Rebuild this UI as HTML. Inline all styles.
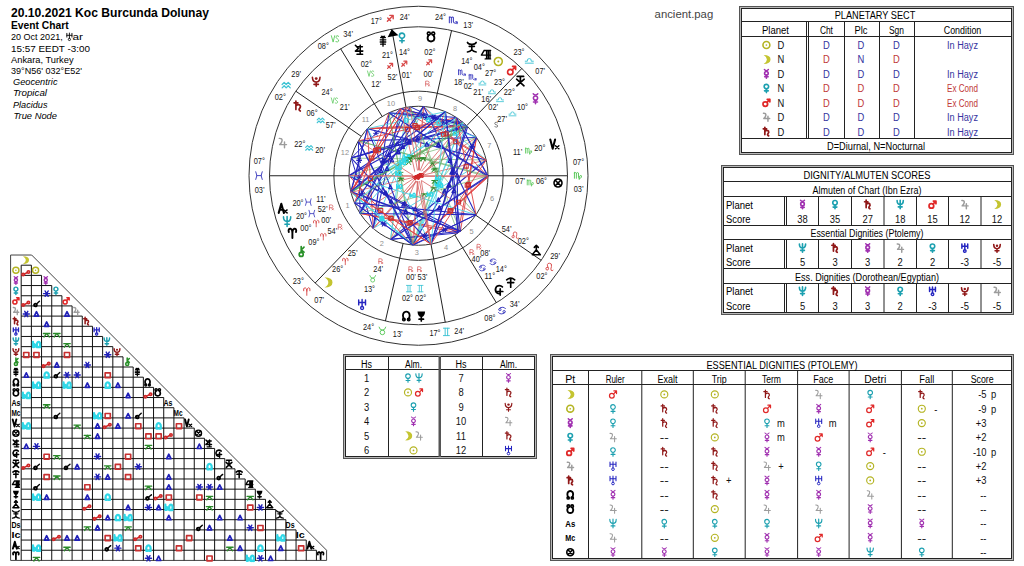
<!DOCTYPE html><html><head><meta charset="utf-8"><style>html,body{margin:0;padding:0;background:#fff;}svg{display:block;font-family:"Liberation Sans",sans-serif;}</style></head><body><svg width="1024" height="566" viewBox="0 0 1024 566"><defs><g id="g_sun"><circle cx="0" cy="0" r="4" fill="none" stroke="currentColor" stroke-width="1.3"/><circle cx="0" cy="0" r="1" fill="currentColor"/></g><g id="b_sun"><circle cx="0" cy="0" r="4" fill="none" stroke="currentColor" stroke-width="1.89"/><circle cx="0" cy="0" r="1" fill="currentColor"/></g><g id="m_sun"><circle cx="0" cy="0" r="4" fill="none" stroke="currentColor" stroke-width="1.56"/><circle cx="0" cy="0" r="1" fill="currentColor"/></g><g id="g_moon"><path d="M-3.2,-5.2 Q5,-5 4.8,0 Q4.6,5 -3.2,5.2 Q0.6,2.8 0.6,0 Q0.6,-2.8 -3.2,-5.2Z" fill="currentColor"/></g><g id="b_moon"><path d="M-3.2,-5.2 Q5,-5 4.8,0 Q4.6,5 -3.2,5.2 Q0.6,2.8 0.6,0 Q0.6,-2.8 -3.2,-5.2Z" fill="currentColor"/></g><g id="m_moon"><path d="M-3.2,-5.2 Q5,-5 4.8,0 Q4.6,5 -3.2,5.2 Q0.6,2.8 0.6,0 Q0.6,-2.8 -3.2,-5.2Z" fill="currentColor"/></g><g id="g_mercury"><path d="M-2.3,-5 Q0,-2.4 2.3,-5" fill="none" stroke="currentColor" stroke-width="1.2" stroke-linecap="round" stroke-linejoin="round"/><circle cx="0" cy="-0.6" r="2.1" fill="none" stroke="currentColor" stroke-width="1.3"/><path d="M0,1.5 L0,5 M-2,3.3 L2,3.3" fill="none" stroke="currentColor" stroke-width="1.3" stroke-linecap="round" stroke-linejoin="round"/></g><g id="b_mercury"><path d="M-2.3,-5 Q0,-2.4 2.3,-5" fill="none" stroke="currentColor" stroke-width="1.74" stroke-linecap="round" stroke-linejoin="round"/><circle cx="0" cy="-0.6" r="2.1" fill="none" stroke="currentColor" stroke-width="1.89"/><path d="M0,1.5 L0,5 M-2,3.3 L2,3.3" fill="none" stroke="currentColor" stroke-width="1.89" stroke-linecap="round" stroke-linejoin="round"/></g><g id="m_mercury"><path d="M-2.3,-5 Q0,-2.4 2.3,-5" fill="none" stroke="currentColor" stroke-width="1.44" stroke-linecap="round" stroke-linejoin="round"/><circle cx="0" cy="-0.6" r="2.1" fill="none" stroke="currentColor" stroke-width="1.56"/><path d="M0,1.5 L0,5 M-2,3.3 L2,3.3" fill="none" stroke="currentColor" stroke-width="1.56" stroke-linecap="round" stroke-linejoin="round"/></g><g id="g_venus"><circle cx="0" cy="-2" r="2.6" fill="none" stroke="currentColor" stroke-width="1.3"/><path d="M0,0.6 L0,5 M-2.2,3 L2.2,3" fill="none" stroke="currentColor" stroke-width="1.3" stroke-linecap="round" stroke-linejoin="round"/></g><g id="b_venus"><circle cx="0" cy="-2" r="2.6" fill="none" stroke="currentColor" stroke-width="1.89"/><path d="M0,0.6 L0,5 M-2.2,3 L2.2,3" fill="none" stroke="currentColor" stroke-width="1.89" stroke-linecap="round" stroke-linejoin="round"/></g><g id="m_venus"><circle cx="0" cy="-2" r="2.6" fill="none" stroke="currentColor" stroke-width="1.56"/><path d="M0,0.6 L0,5 M-2.2,3 L2.2,3" fill="none" stroke="currentColor" stroke-width="1.56" stroke-linecap="round" stroke-linejoin="round"/></g><g id="g_mars"><circle cx="-1.3" cy="1.6" r="2.7" fill="none" stroke="currentColor" stroke-width="1.4"/><path d="M0.6,-0.4 L4,-4 M1,-4 L4,-4 L4,-1" fill="none" stroke="currentColor" stroke-width="1.4" stroke-linecap="round" stroke-linejoin="round"/></g><g id="b_mars"><circle cx="-1.3" cy="1.6" r="2.7" fill="none" stroke="currentColor" stroke-width="2.03"/><path d="M0.6,-0.4 L4,-4 M1,-4 L4,-4 L4,-1" fill="none" stroke="currentColor" stroke-width="2.03" stroke-linecap="round" stroke-linejoin="round"/></g><g id="m_mars"><circle cx="-1.3" cy="1.6" r="2.7" fill="none" stroke="currentColor" stroke-width="1.68"/><path d="M0.6,-0.4 L4,-4 M1,-4 L4,-4 L4,-1" fill="none" stroke="currentColor" stroke-width="1.68" stroke-linecap="round" stroke-linejoin="round"/></g><g id="g_jupiter"><path d="M-3.4,-4.6 Q-0.4,-4.8 -0.6,-2.4 Q-0.8,-0.4 -3,1.6 L3.8,1.6 M1.8,-1 L1.8,4.8" fill="none" stroke="currentColor" stroke-width="1.2" stroke-linecap="round" stroke-linejoin="round"/></g><g id="b_jupiter"><path d="M-3.4,-4.6 Q-0.4,-4.8 -0.6,-2.4 Q-0.8,-0.4 -3,1.6 L3.8,1.6 M1.8,-1 L1.8,4.8" fill="none" stroke="currentColor" stroke-width="1.74" stroke-linecap="round" stroke-linejoin="round"/></g><g id="m_jupiter"><path d="M-3.4,-4.6 Q-0.4,-4.8 -0.6,-2.4 Q-0.8,-0.4 -3,1.6 L3.8,1.6 M1.8,-1 L1.8,4.8" fill="none" stroke="currentColor" stroke-width="1.44" stroke-linecap="round" stroke-linejoin="round"/></g><g id="g_saturn"><path d="M-1.8,-5 L-1.8,3.5 M-3.6,-3.2 L0.2,-3.2 M-1.8,-0.2 Q0.6,-2.4 2.4,-0.6 Q3.4,0.8 1.6,2.8 Q0.8,4 2.6,5" fill="none" stroke="currentColor" stroke-width="1.4" stroke-linecap="round" stroke-linejoin="round"/></g><g id="b_saturn"><path d="M-1.8,-5 L-1.8,3.5 M-3.6,-3.2 L0.2,-3.2 M-1.8,-0.2 Q0.6,-2.4 2.4,-0.6 Q3.4,0.8 1.6,2.8 Q0.8,4 2.6,5" fill="none" stroke="currentColor" stroke-width="2.03" stroke-linecap="round" stroke-linejoin="round"/></g><g id="m_saturn"><path d="M-1.8,-5 L-1.8,3.5 M-3.6,-3.2 L0.2,-3.2 M-1.8,-0.2 Q0.6,-2.4 2.4,-0.6 Q3.4,0.8 1.6,2.8 Q0.8,4 2.6,5" fill="none" stroke="currentColor" stroke-width="1.68" stroke-linecap="round" stroke-linejoin="round"/></g><g id="g_uranus"><path d="M-3.4,-4.6 L-3.4,0.4 M3.4,-4.6 L3.4,0.4 M-3.4,-2 L3.4,-2 M0,-5 L0,2" fill="none" stroke="currentColor" stroke-width="1.2" stroke-linecap="round" stroke-linejoin="round"/><circle cx="0" cy="3.5" r="1.5" fill="none" stroke="currentColor" stroke-width="1.1"/></g><g id="b_uranus"><path d="M-3.4,-4.6 L-3.4,0.4 M3.4,-4.6 L3.4,0.4 M-3.4,-2 L3.4,-2 M0,-5 L0,2" fill="none" stroke="currentColor" stroke-width="1.74" stroke-linecap="round" stroke-linejoin="round"/><circle cx="0" cy="3.5" r="1.5" fill="none" stroke="currentColor" stroke-width="1.59"/></g><g id="m_uranus"><path d="M-3.4,-4.6 L-3.4,0.4 M3.4,-4.6 L3.4,0.4 M-3.4,-2 L3.4,-2 M0,-5 L0,2" fill="none" stroke="currentColor" stroke-width="1.44" stroke-linecap="round" stroke-linejoin="round"/><circle cx="0" cy="3.5" r="1.5" fill="none" stroke="currentColor" stroke-width="1.32"/></g><g id="g_neptune"><path d="M-3.6,-4.6 Q-3.6,0 0,0 Q3.6,0 3.6,-4.6 M0,-5 L0,5 M-2.2,2.8 L2.2,2.8" fill="none" stroke="currentColor" stroke-width="1.3" stroke-linecap="round" stroke-linejoin="round"/></g><g id="b_neptune"><path d="M-3.6,-4.6 Q-3.6,0 0,0 Q3.6,0 3.6,-4.6 M0,-5 L0,5 M-2.2,2.8 L2.2,2.8" fill="none" stroke="currentColor" stroke-width="1.89" stroke-linecap="round" stroke-linejoin="round"/></g><g id="m_neptune"><path d="M-3.6,-4.6 Q-3.6,0 0,0 Q3.6,0 3.6,-4.6 M0,-5 L0,5 M-2.2,2.8 L2.2,2.8" fill="none" stroke="currentColor" stroke-width="1.56" stroke-linecap="round" stroke-linejoin="round"/></g><g id="g_pluto"><path d="M-3.8,-4 Q-3.6,0.8 0,0.8 Q3.6,0.8 3.8,-4 M0,0.8 L0,5 M-2.2,3.2 L2.2,3.2" fill="none" stroke="currentColor" stroke-width="1.3" stroke-linecap="round" stroke-linejoin="round"/><circle cx="0" cy="-2.6" r="1.4" fill="currentColor"/></g><g id="b_pluto"><path d="M-3.8,-4 Q-3.6,0.8 0,0.8 Q3.6,0.8 3.8,-4 M0,0.8 L0,5 M-2.2,3.2 L2.2,3.2" fill="none" stroke="currentColor" stroke-width="1.89" stroke-linecap="round" stroke-linejoin="round"/><circle cx="0" cy="-2.6" r="1.4" fill="currentColor"/></g><g id="m_pluto"><path d="M-3.8,-4 Q-3.6,0.8 0,0.8 Q3.6,0.8 3.8,-4 M0,0.8 L0,5 M-2.2,3.2 L2.2,3.2" fill="none" stroke="currentColor" stroke-width="1.56" stroke-linecap="round" stroke-linejoin="round"/><circle cx="0" cy="-2.6" r="1.4" fill="currentColor"/></g><g id="g_chiron"><circle cx="0" cy="2.8" r="2" fill="none" stroke="currentColor" stroke-width="1.4"/><path d="M0,0.8 L0,-5 M0,-1.6 L2.8,-4.4 M0,-1.6 L2.8,0.6" fill="none" stroke="currentColor" stroke-width="1.4" stroke-linecap="round" stroke-linejoin="round"/></g><g id="b_chiron"><circle cx="0" cy="2.8" r="2" fill="none" stroke="currentColor" stroke-width="2.03"/><path d="M0,0.8 L0,-5 M0,-1.6 L2.8,-4.4 M0,-1.6 L2.8,0.6" fill="none" stroke="currentColor" stroke-width="2.03" stroke-linecap="round" stroke-linejoin="round"/></g><g id="m_chiron"><circle cx="0" cy="2.8" r="2" fill="none" stroke="currentColor" stroke-width="1.68"/><path d="M0,0.8 L0,-5 M0,-1.6 L2.8,-4.4 M0,-1.6 L2.8,0.6" fill="none" stroke="currentColor" stroke-width="1.68" stroke-linecap="round" stroke-linejoin="round"/></g><g id="g_node"><path d="M-2,3.6 Q-4.6,-0.6 -2.2,-3.6 Q0,-5.2 2.2,-3.6 Q4.6,-0.6 2,3.6" fill="none" stroke="currentColor" stroke-width="1.5" stroke-linecap="round" stroke-linejoin="round"/><circle cx="-2.4" cy="3.6" r="1.3" fill="none" stroke="currentColor" stroke-width="1.2"/><circle cx="2.4" cy="3.6" r="1.3" fill="none" stroke="currentColor" stroke-width="1.2"/></g><g id="b_node"><path d="M-2,3.6 Q-4.6,-0.6 -2.2,-3.6 Q0,-5.2 2.2,-3.6 Q4.6,-0.6 2,3.6" fill="none" stroke="currentColor" stroke-width="2.17" stroke-linecap="round" stroke-linejoin="round"/><circle cx="-2.4" cy="3.6" r="1.3" fill="none" stroke="currentColor" stroke-width="1.74"/><circle cx="2.4" cy="3.6" r="1.3" fill="none" stroke="currentColor" stroke-width="1.74"/></g><g id="m_node"><path d="M-2,3.6 Q-4.6,-0.6 -2.2,-3.6 Q0,-5.2 2.2,-3.6 Q4.6,-0.6 2,3.6" fill="none" stroke="currentColor" stroke-width="1.80" stroke-linecap="round" stroke-linejoin="round"/><circle cx="-2.4" cy="3.6" r="1.3" fill="none" stroke="currentColor" stroke-width="1.44"/><circle cx="2.4" cy="3.6" r="1.3" fill="none" stroke="currentColor" stroke-width="1.44"/></g><g id="g_snode"><path d="M-2.4,-2 Q-4.4,1.2 -2.6,3.6 Q0,5.4 2.6,3.6 Q4.4,1.2 2.4,-2" fill="none" stroke="currentColor" stroke-width="1.5" stroke-linecap="round" stroke-linejoin="round"/><circle cx="-2.2" cy="-3.4" r="1.5" fill="none" stroke="currentColor" stroke-width="1.3"/><circle cx="2.2" cy="-3.4" r="1.5" fill="none" stroke="currentColor" stroke-width="1.3"/></g><g id="b_snode"><path d="M-2.4,-2 Q-4.4,1.2 -2.6,3.6 Q0,5.4 2.6,3.6 Q4.4,1.2 2.4,-2" fill="none" stroke="currentColor" stroke-width="2.17" stroke-linecap="round" stroke-linejoin="round"/><circle cx="-2.2" cy="-3.4" r="1.5" fill="none" stroke="currentColor" stroke-width="1.89"/><circle cx="2.2" cy="-3.4" r="1.5" fill="none" stroke="currentColor" stroke-width="1.89"/></g><g id="m_snode"><path d="M-2.4,-2 Q-4.4,1.2 -2.6,3.6 Q0,5.4 2.6,3.6 Q4.4,1.2 2.4,-2" fill="none" stroke="currentColor" stroke-width="1.80" stroke-linecap="round" stroke-linejoin="round"/><circle cx="-2.2" cy="-3.4" r="1.5" fill="none" stroke="currentColor" stroke-width="1.56"/><circle cx="2.2" cy="-3.4" r="1.5" fill="none" stroke="currentColor" stroke-width="1.56"/></g><g id="g_cupido"><path d="M-3.6,-4.4 L-0.6,-1.2 L-3.6,1.4 L3.8,1.4 M1.2,-4.4 L1.2,4.6 M-2,4.6 L3.6,4.6 M-1,-3 L3.4,-3" fill="none" stroke="currentColor" stroke-width="1.3" stroke-linecap="round" stroke-linejoin="round"/></g><g id="b_cupido"><path d="M-3.6,-4.4 L-0.6,-1.2 L-3.6,1.4 L3.8,1.4 M1.2,-4.4 L1.2,4.6 M-2,4.6 L3.6,4.6 M-1,-3 L3.4,-3" fill="none" stroke="currentColor" stroke-width="1.89" stroke-linecap="round" stroke-linejoin="round"/></g><g id="m_cupido"><path d="M-3.6,-4.4 L-0.6,-1.2 L-3.6,1.4 L3.8,1.4 M1.2,-4.4 L1.2,4.6 M-2,4.6 L3.6,4.6 M-1,-3 L3.4,-3" fill="none" stroke="currentColor" stroke-width="1.56" stroke-linecap="round" stroke-linejoin="round"/></g><g id="g_hades"><path d="M3.2,-3.2 Q0.6,-5.6 -2.6,-3.6 Q-4.8,-0.8 -3,2.2 Q-1.6,3.8 0.4,3.4 M1,-1.2 L1,5 M-1.6,1.4 L3.6,1.4" fill="none" stroke="currentColor" stroke-width="1.4" stroke-linecap="round" stroke-linejoin="round"/></g><g id="b_hades"><path d="M3.2,-3.2 Q0.6,-5.6 -2.6,-3.6 Q-4.8,-0.8 -3,2.2 Q-1.6,3.8 0.4,3.4 M1,-1.2 L1,5 M-1.6,1.4 L3.6,1.4" fill="none" stroke="currentColor" stroke-width="2.03" stroke-linecap="round" stroke-linejoin="round"/></g><g id="m_hades"><path d="M3.2,-3.2 Q0.6,-5.6 -2.6,-3.6 Q-4.8,-0.8 -3,2.2 Q-1.6,3.8 0.4,3.4 M1,-1.2 L1,5 M-1.6,1.4 L3.6,1.4" fill="none" stroke="currentColor" stroke-width="1.68" stroke-linecap="round" stroke-linejoin="round"/></g><g id="g_zeus"><path d="M-3.2,-4.6 L3.2,-4.6 M0,-4.6 L0,0.2 M-3.8,-1.8 L3.6,4.8 M3.8,-1.8 L-3.6,4.8" fill="none" stroke="currentColor" stroke-width="1.4" stroke-linecap="round" stroke-linejoin="round"/></g><g id="b_zeus"><path d="M-3.2,-4.6 L3.2,-4.6 M0,-4.6 L0,0.2 M-3.8,-1.8 L3.6,4.8 M3.8,-1.8 L-3.6,4.8" fill="none" stroke="currentColor" stroke-width="2.03" stroke-linecap="round" stroke-linejoin="round"/></g><g id="m_zeus"><path d="M-3.2,-4.6 L3.2,-4.6 M0,-4.6 L0,0.2 M-3.8,-1.8 L3.6,4.8 M3.8,-1.8 L-3.6,4.8" fill="none" stroke="currentColor" stroke-width="1.68" stroke-linecap="round" stroke-linejoin="round"/></g><g id="g_kronos"><path d="M-4,-2.4 Q0,-5.6 4,-2.4 M0,-4 L0,5 M-3,0.4 L3,0.4" fill="none" stroke="currentColor" stroke-width="1.4" stroke-linecap="round" stroke-linejoin="round"/></g><g id="b_kronos"><path d="M-4,-2.4 Q0,-5.6 4,-2.4 M0,-4 L0,5 M-3,0.4 L3,0.4" fill="none" stroke="currentColor" stroke-width="2.03" stroke-linecap="round" stroke-linejoin="round"/></g><g id="m_kronos"><path d="M-4,-2.4 Q0,-5.6 4,-2.4 M0,-4 L0,5 M-3,0.4 L3,0.4" fill="none" stroke="currentColor" stroke-width="1.68" stroke-linecap="round" stroke-linejoin="round"/></g><g id="g_apollon"><path d="M-4.6,0.6 L-1.8,-4.2 M-4.6,0.6 L4.6,0.6 M-0.8,-4 L4.6,-4 M-0.8,4.4 L4.6,4.4 M0.6,-4 L0.6,4.4 M2.3,-4 L2.3,4.4 M4,-4 L4,4.4" fill="none" stroke="currentColor" stroke-width="1.2" stroke-linecap="round" stroke-linejoin="round"/></g><g id="b_apollon"><path d="M-4.6,0.6 L-1.8,-4.2 M-4.6,0.6 L4.6,0.6 M-0.8,-4 L4.6,-4 M-0.8,4.4 L4.6,4.4 M0.6,-4 L0.6,4.4 M2.3,-4 L2.3,4.4 M4,-4 L4,4.4" fill="none" stroke="currentColor" stroke-width="1.74" stroke-linecap="round" stroke-linejoin="round"/></g><g id="m_apollon"><path d="M-4.6,0.6 L-1.8,-4.2 M-4.6,0.6 L4.6,0.6 M-0.8,-4 L4.6,-4 M-0.8,4.4 L4.6,4.4 M0.6,-4 L0.6,4.4 M2.3,-4 L2.3,4.4 M4,-4 L4,4.4" fill="none" stroke="currentColor" stroke-width="1.44" stroke-linecap="round" stroke-linejoin="round"/></g><g id="g_admetos"><path d="M-3.8,-4.6 L3.8,-4.6 Q3.4,0.8 0,1 Q-3.4,0.8 -3.8,-4.6Z" fill="currentColor"/><path d="M0,0.8 L0,5 M-2.2,3.2 L2.2,3.2" fill="none" stroke="currentColor" stroke-width="1.4" stroke-linecap="round" stroke-linejoin="round"/></g><g id="b_admetos"><path d="M-3.8,-4.6 L3.8,-4.6 Q3.4,0.8 0,1 Q-3.4,0.8 -3.8,-4.6Z" fill="currentColor"/><path d="M0,0.8 L0,5 M-2.2,3.2 L2.2,3.2" fill="none" stroke="currentColor" stroke-width="2.03" stroke-linecap="round" stroke-linejoin="round"/></g><g id="m_admetos"><path d="M-3.8,-4.6 L3.8,-4.6 Q3.4,0.8 0,1 Q-3.4,0.8 -3.8,-4.6Z" fill="currentColor"/><path d="M0,0.8 L0,5 M-2.2,3.2 L2.2,3.2" fill="none" stroke="currentColor" stroke-width="1.68" stroke-linecap="round" stroke-linejoin="round"/></g><g id="g_vulkanus"><path d="M-4,4.4 L0,-0.6 L4,4.4Z M0,-0.6 L0,-5 M-2,-3 L0,-5 L2,-3" fill="none" stroke="currentColor" stroke-width="1.3" stroke-linecap="round" stroke-linejoin="round"/></g><g id="b_vulkanus"><path d="M-4,4.4 L0,-0.6 L4,4.4Z M0,-0.6 L0,-5 M-2,-3 L0,-5 L2,-3" fill="none" stroke="currentColor" stroke-width="1.89" stroke-linecap="round" stroke-linejoin="round"/></g><g id="m_vulkanus"><path d="M-4,4.4 L0,-0.6 L4,4.4Z M0,-0.6 L0,-5 M-2,-3 L0,-5 L2,-3" fill="none" stroke="currentColor" stroke-width="1.56" stroke-linecap="round" stroke-linejoin="round"/></g><g id="g_poseidon"><path d="M-4.4,-5 Q-3.6,-3 0,-3.2 Q3.6,-3 4.4,-5 M0,-3.2 L0,2.4 M-4.4,4.6 Q-1.6,4.4 0,2.4 Q1.6,4.4 4.4,4.6 M-2.6,-1 L2.6,-1" fill="none" stroke="currentColor" stroke-width="1.3" stroke-linecap="round" stroke-linejoin="round"/></g><g id="b_poseidon"><path d="M-4.4,-5 Q-3.6,-3 0,-3.2 Q3.6,-3 4.4,-5 M0,-3.2 L0,2.4 M-4.4,4.6 Q-1.6,4.4 0,2.4 Q1.6,4.4 4.4,4.6 M-2.6,-1 L2.6,-1" fill="none" stroke="currentColor" stroke-width="1.89" stroke-linecap="round" stroke-linejoin="round"/></g><g id="m_poseidon"><path d="M-4.4,-5 Q-3.6,-3 0,-3.2 Q3.6,-3 4.4,-5 M0,-3.2 L0,2.4 M-4.4,4.6 Q-1.6,4.4 0,2.4 Q1.6,4.4 4.4,4.6 M-2.6,-1 L2.6,-1" fill="none" stroke="currentColor" stroke-width="1.56" stroke-linecap="round" stroke-linejoin="round"/></g><g id="g_trans"><path d="M0,-5 L0,5 M-2.4,-3.6 L2.4,-3.6 M-2.8,-1.4 L2.8,-1.4 M-2.8,0.8 L2.8,0.8 M-2.4,3 L2.4,3 M-1.6,-5 L0,-4 L1.6,-5" fill="none" stroke="currentColor" stroke-width="1.1" stroke-linecap="round" stroke-linejoin="round"/></g><g id="b_trans"><path d="M0,-5 L0,5 M-2.4,-3.6 L2.4,-3.6 M-2.8,-1.4 L2.8,-1.4 M-2.8,0.8 L2.8,0.8 M-2.4,3 L2.4,3 M-1.6,-5 L0,-4 L1.6,-5" fill="none" stroke="currentColor" stroke-width="1.59" stroke-linecap="round" stroke-linejoin="round"/></g><g id="m_trans"><path d="M0,-5 L0,5 M-2.4,-3.6 L2.4,-3.6 M-2.8,-1.4 L2.8,-1.4 M-2.8,0.8 L2.8,0.8 M-2.4,3 L2.4,3 M-1.6,-5 L0,-4 L1.6,-5" fill="none" stroke="currentColor" stroke-width="1.32" stroke-linecap="round" stroke-linejoin="round"/></g><g id="g_pof"><circle cx="0" cy="0" r="4" fill="none" stroke="currentColor" stroke-width="1.3"/><path d="M-2.8,-2.8 L2.8,2.8 M2.8,-2.8 L-2.8,2.8" fill="none" stroke="currentColor" stroke-width="1.3" stroke-linecap="round" stroke-linejoin="round"/></g><g id="b_pof"><circle cx="0" cy="0" r="4" fill="none" stroke="currentColor" stroke-width="1.89"/><path d="M-2.8,-2.8 L2.8,2.8 M2.8,-2.8 L-2.8,2.8" fill="none" stroke="currentColor" stroke-width="1.89" stroke-linecap="round" stroke-linejoin="round"/></g><g id="m_pof"><circle cx="0" cy="0" r="4" fill="none" stroke="currentColor" stroke-width="1.56"/><path d="M-2.8,-2.8 L2.8,2.8 M2.8,-2.8 L-2.8,2.8" fill="none" stroke="currentColor" stroke-width="1.56" stroke-linecap="round" stroke-linejoin="round"/></g><g id="g_axt"><path d="M-4,4.6 L-1.4,-4.6 L1.2,4.6 M-2.8,1.4 L0.2,1.4" fill="none" stroke="currentColor" stroke-width="1.7" stroke-linecap="round" stroke-linejoin="round"/><path d="M1,1.6 L4.4,4.6 M4.4,1.6 L1,4.6" fill="none" stroke="currentColor" stroke-width="1.2" stroke-linecap="round" stroke-linejoin="round"/></g><g id="b_axt"><path d="M-4,4.6 L-1.4,-4.6 L1.2,4.6 M-2.8,1.4 L0.2,1.4" fill="none" stroke="currentColor" stroke-width="2.46" stroke-linecap="round" stroke-linejoin="round"/><path d="M1,1.6 L4.4,4.6 M4.4,1.6 L1,4.6" fill="none" stroke="currentColor" stroke-width="1.74" stroke-linecap="round" stroke-linejoin="round"/></g><g id="m_axt"><path d="M-4,4.6 L-1.4,-4.6 L1.2,4.6 M-2.8,1.4 L0.2,1.4" fill="none" stroke="currentColor" stroke-width="2.04" stroke-linecap="round" stroke-linejoin="round"/><path d="M1,1.6 L4.4,4.6 M4.4,1.6 L1,4.6" fill="none" stroke="currentColor" stroke-width="1.44" stroke-linecap="round" stroke-linejoin="round"/></g><g id="g_vx"><path d="M-4.2,-4.6 L-1.8,4.6 L0.6,-4.6" fill="none" stroke="currentColor" stroke-width="1.7" stroke-linecap="round" stroke-linejoin="round"/><path d="M1,1.6 L4.4,4.6 M4.4,1.6 L1,4.6" fill="none" stroke="currentColor" stroke-width="1.2" stroke-linecap="round" stroke-linejoin="round"/></g><g id="b_vx"><path d="M-4.2,-4.6 L-1.8,4.6 L0.6,-4.6" fill="none" stroke="currentColor" stroke-width="2.46" stroke-linecap="round" stroke-linejoin="round"/><path d="M1,1.6 L4.4,4.6 M4.4,1.6 L1,4.6" fill="none" stroke="currentColor" stroke-width="1.74" stroke-linecap="round" stroke-linejoin="round"/></g><g id="m_vx"><path d="M-4.2,-4.6 L-1.8,4.6 L0.6,-4.6" fill="none" stroke="currentColor" stroke-width="2.04" stroke-linecap="round" stroke-linejoin="round"/><path d="M1,1.6 L4.4,4.6 M4.4,1.6 L1,4.6" fill="none" stroke="currentColor" stroke-width="1.44" stroke-linecap="round" stroke-linejoin="round"/></g><g id="g_aries_pt"><path d="M-3.6,-1 Q-4.6,-4.6 -1.6,-4.2 Q0,-3.6 0,0 L0,5 M0,0 Q0,-3.6 1.6,-4.2 Q4.6,-4.6 3.6,-1" fill="none" stroke="currentColor" stroke-width="1.6" stroke-linecap="round" stroke-linejoin="round"/></g><g id="b_aries_pt"><path d="M-3.6,-1 Q-4.6,-4.6 -1.6,-4.2 Q0,-3.6 0,0 L0,5 M0,0 Q0,-3.6 1.6,-4.2 Q4.6,-4.6 3.6,-1" fill="none" stroke="currentColor" stroke-width="2.32" stroke-linecap="round" stroke-linejoin="round"/></g><g id="m_aries_pt"><path d="M-3.6,-1 Q-4.6,-4.6 -1.6,-4.2 Q0,-3.6 0,0 L0,5 M0,0 Q0,-3.6 1.6,-4.2 Q4.6,-4.6 3.6,-1" fill="none" stroke="currentColor" stroke-width="1.92" stroke-linecap="round" stroke-linejoin="round"/></g><g id="g_ari"><path d="M-3.6,-0.6 Q-4.4,-4.2 -1.8,-4 Q0,-3.6 0,0 L0,4.6 M0,0 Q0,-3.6 1.8,-4 Q4.4,-4.2 3.6,-0.6" fill="none" stroke="currentColor" stroke-width="1.1" stroke-linecap="round" stroke-linejoin="round"/></g><g id="b_ari"><path d="M-3.6,-0.6 Q-4.4,-4.2 -1.8,-4 Q0,-3.6 0,0 L0,4.6 M0,0 Q0,-3.6 1.8,-4 Q4.4,-4.2 3.6,-0.6" fill="none" stroke="currentColor" stroke-width="1.59" stroke-linecap="round" stroke-linejoin="round"/></g><g id="m_ari"><path d="M-3.6,-0.6 Q-4.4,-4.2 -1.8,-4 Q0,-3.6 0,0 L0,4.6 M0,0 Q0,-3.6 1.8,-4 Q4.4,-4.2 3.6,-0.6" fill="none" stroke="currentColor" stroke-width="1.32" stroke-linecap="round" stroke-linejoin="round"/></g><g id="g_tau"><circle cx="0" cy="1.6" r="2.6" fill="none" stroke="currentColor" stroke-width="1.1"/><path d="M-3.8,-4.4 Q-3,-1 0,-1 Q3,-1 3.8,-4.4" fill="none" stroke="currentColor" stroke-width="1.1" stroke-linecap="round" stroke-linejoin="round"/></g><g id="b_tau"><circle cx="0" cy="1.6" r="2.6" fill="none" stroke="currentColor" stroke-width="1.59"/><path d="M-3.8,-4.4 Q-3,-1 0,-1 Q3,-1 3.8,-4.4" fill="none" stroke="currentColor" stroke-width="1.59" stroke-linecap="round" stroke-linejoin="round"/></g><g id="m_tau"><circle cx="0" cy="1.6" r="2.6" fill="none" stroke="currentColor" stroke-width="1.32"/><path d="M-3.8,-4.4 Q-3,-1 0,-1 Q3,-1 3.8,-4.4" fill="none" stroke="currentColor" stroke-width="1.32" stroke-linecap="round" stroke-linejoin="round"/></g><g id="g_gem"><path d="M-3.4,-4.2 L3.4,-4.2 M-3.4,4.2 L3.4,4.2 M-1.4,-4.2 L-1.4,4.2 M1.4,-4.2 L1.4,4.2" fill="none" stroke="currentColor" stroke-width="1.1" stroke-linecap="round" stroke-linejoin="round"/></g><g id="b_gem"><path d="M-3.4,-4.2 L3.4,-4.2 M-3.4,4.2 L3.4,4.2 M-1.4,-4.2 L-1.4,4.2 M1.4,-4.2 L1.4,4.2" fill="none" stroke="currentColor" stroke-width="1.59" stroke-linecap="round" stroke-linejoin="round"/></g><g id="m_gem"><path d="M-3.4,-4.2 L3.4,-4.2 M-3.4,4.2 L3.4,4.2 M-1.4,-4.2 L-1.4,4.2 M1.4,-4.2 L1.4,4.2" fill="none" stroke="currentColor" stroke-width="1.32" stroke-linecap="round" stroke-linejoin="round"/></g><g id="g_can"><circle cx="-2.4" cy="-1.2" r="1.3" fill="none" stroke="currentColor" stroke-width="1.1"/><circle cx="2.4" cy="1.2" r="1.3" fill="none" stroke="currentColor" stroke-width="1.1"/><path d="M-3.6,-1.6 Q-3,-4 1,-3.8 Q3.4,-3.4 4,-2.2 M3.6,1.6 Q3,4 -1,3.8 Q-3.4,3.4 -4,2.2" fill="none" stroke="currentColor" stroke-width="1.1" stroke-linecap="round" stroke-linejoin="round"/></g><g id="b_can"><circle cx="-2.4" cy="-1.2" r="1.3" fill="none" stroke="currentColor" stroke-width="1.59"/><circle cx="2.4" cy="1.2" r="1.3" fill="none" stroke="currentColor" stroke-width="1.59"/><path d="M-3.6,-1.6 Q-3,-4 1,-3.8 Q3.4,-3.4 4,-2.2 M3.6,1.6 Q3,4 -1,3.8 Q-3.4,3.4 -4,2.2" fill="none" stroke="currentColor" stroke-width="1.59" stroke-linecap="round" stroke-linejoin="round"/></g><g id="m_can"><circle cx="-2.4" cy="-1.2" r="1.3" fill="none" stroke="currentColor" stroke-width="1.32"/><circle cx="2.4" cy="1.2" r="1.3" fill="none" stroke="currentColor" stroke-width="1.32"/><path d="M-3.6,-1.6 Q-3,-4 1,-3.8 Q3.4,-3.4 4,-2.2 M3.6,1.6 Q3,4 -1,3.8 Q-3.4,3.4 -4,2.2" fill="none" stroke="currentColor" stroke-width="1.32" stroke-linecap="round" stroke-linejoin="round"/></g><g id="g_leo"><circle cx="-2.6" cy="1.8" r="1.5" fill="none" stroke="currentColor" stroke-width="1.1"/><path d="M-1.6,0.6 Q-4,-4.4 0,-4.4 Q3.2,-4.4 2.2,-0.6 Q1,2.6 2,3.8 Q3,4.6 4,3.6" fill="none" stroke="currentColor" stroke-width="1.1" stroke-linecap="round" stroke-linejoin="round"/></g><g id="b_leo"><circle cx="-2.6" cy="1.8" r="1.5" fill="none" stroke="currentColor" stroke-width="1.59"/><path d="M-1.6,0.6 Q-4,-4.4 0,-4.4 Q3.2,-4.4 2.2,-0.6 Q1,2.6 2,3.8 Q3,4.6 4,3.6" fill="none" stroke="currentColor" stroke-width="1.59" stroke-linecap="round" stroke-linejoin="round"/></g><g id="m_leo"><circle cx="-2.6" cy="1.8" r="1.5" fill="none" stroke="currentColor" stroke-width="1.32"/><path d="M-1.6,0.6 Q-4,-4.4 0,-4.4 Q3.2,-4.4 2.2,-0.6 Q1,2.6 2,3.8 Q3,4.6 4,3.6" fill="none" stroke="currentColor" stroke-width="1.32" stroke-linecap="round" stroke-linejoin="round"/></g><g id="g_vir"><path d="M-4.4,-3.2 L-4.4,3.6 M-4.4,-2 Q-3.4,-3.8 -2.2,-2.4 L-2.2,3.6 M-2.2,-2 Q-1,-3.8 0.2,-2.4 L0.2,2.6 Q0.4,4.6 2.4,3.6 Q4.4,2.2 3.4,0.6 Q2,-0.2 1.2,2 Q0.8,3.4 1,5" fill="none" stroke="currentColor" stroke-width="1.1" stroke-linecap="round" stroke-linejoin="round"/></g><g id="b_vir"><path d="M-4.4,-3.2 L-4.4,3.6 M-4.4,-2 Q-3.4,-3.8 -2.2,-2.4 L-2.2,3.6 M-2.2,-2 Q-1,-3.8 0.2,-2.4 L0.2,2.6 Q0.4,4.6 2.4,3.6 Q4.4,2.2 3.4,0.6 Q2,-0.2 1.2,2 Q0.8,3.4 1,5" fill="none" stroke="currentColor" stroke-width="1.59" stroke-linecap="round" stroke-linejoin="round"/></g><g id="m_vir"><path d="M-4.4,-3.2 L-4.4,3.6 M-4.4,-2 Q-3.4,-3.8 -2.2,-2.4 L-2.2,3.6 M-2.2,-2 Q-1,-3.8 0.2,-2.4 L0.2,2.6 Q0.4,4.6 2.4,3.6 Q4.4,2.2 3.4,0.6 Q2,-0.2 1.2,2 Q0.8,3.4 1,5" fill="none" stroke="currentColor" stroke-width="1.32" stroke-linecap="round" stroke-linejoin="round"/></g><g id="g_lib"><path d="M-4.6,2.8 L4.6,2.8 M-4.6,0.6 L-2.2,0.6 Q-2.8,-2.4 0,-2.4 Q2.8,-2.4 2.2,0.6 L4.6,0.6" fill="none" stroke="currentColor" stroke-width="1.1" stroke-linecap="round" stroke-linejoin="round"/></g><g id="b_lib"><path d="M-4.6,2.8 L4.6,2.8 M-4.6,0.6 L-2.2,0.6 Q-2.8,-2.4 0,-2.4 Q2.8,-2.4 2.2,0.6 L4.6,0.6" fill="none" stroke="currentColor" stroke-width="1.59" stroke-linecap="round" stroke-linejoin="round"/></g><g id="m_lib"><path d="M-4.6,2.8 L4.6,2.8 M-4.6,0.6 L-2.2,0.6 Q-2.8,-2.4 0,-2.4 Q2.8,-2.4 2.2,0.6 L4.6,0.6" fill="none" stroke="currentColor" stroke-width="1.32" stroke-linecap="round" stroke-linejoin="round"/></g><g id="g_sco"><path d="M-4.6,-3 L-4.6,3.6 M-4.6,-1.8 Q-3.6,-3.8 -2.3,-2.2 L-2.3,3.6 M-2.3,-1.8 Q-1.2,-3.8 0,-2.2 L0,2.6 Q0.4,4.2 2.6,4.2 L4.6,3 M2.8,2.4 L4.6,3 L4.2,4.8" fill="none" stroke="currentColor" stroke-width="1.2" stroke-linecap="round" stroke-linejoin="round"/></g><g id="b_sco"><path d="M-4.6,-3 L-4.6,3.6 M-4.6,-1.8 Q-3.6,-3.8 -2.3,-2.2 L-2.3,3.6 M-2.3,-1.8 Q-1.2,-3.8 0,-2.2 L0,2.6 Q0.4,4.2 2.6,4.2 L4.6,3 M2.8,2.4 L4.6,3 L4.2,4.8" fill="none" stroke="currentColor" stroke-width="1.74" stroke-linecap="round" stroke-linejoin="round"/></g><g id="m_sco"><path d="M-4.6,-3 L-4.6,3.6 M-4.6,-1.8 Q-3.6,-3.8 -2.3,-2.2 L-2.3,3.6 M-2.3,-1.8 Q-1.2,-3.8 0,-2.2 L0,2.6 Q0.4,4.2 2.6,4.2 L4.6,3 M2.8,2.4 L4.6,3 L4.2,4.8" fill="none" stroke="currentColor" stroke-width="1.44" stroke-linecap="round" stroke-linejoin="round"/></g><g id="g_sag"><path d="M-3.2,3.2 L3.2,-3.2 M-0.4,-3.4 L3.4,-3.4 L3.4,0.4 M-2.8,-0.4 L0.4,2.8" fill="none" stroke="currentColor" stroke-width="1.6" stroke-linecap="round" stroke-linejoin="round"/></g><g id="b_sag"><path d="M-3.2,3.2 L3.2,-3.2 M-0.4,-3.4 L3.4,-3.4 L3.4,0.4 M-2.8,-0.4 L0.4,2.8" fill="none" stroke="currentColor" stroke-width="2.32" stroke-linecap="round" stroke-linejoin="round"/></g><g id="m_sag"><path d="M-3.2,3.2 L3.2,-3.2 M-0.4,-3.4 L3.4,-3.4 L3.4,0.4 M-2.8,-0.4 L0.4,2.8" fill="none" stroke="currentColor" stroke-width="1.92" stroke-linecap="round" stroke-linejoin="round"/></g><g id="g_cap"><path d="M-4.6,-3.6 L-2.6,3.6 L-0.8,-3.6 M3.8,-2.8 Q3,-3.8 1.8,-3.6 Q0.4,-3.2 0.8,-1.6 Q1.2,-0.4 2.6,0.2 Q4.2,1 3.6,2.6 Q2.8,4 0.6,3.2" fill="none" stroke="currentColor" stroke-width="1.0" stroke-linecap="round" stroke-linejoin="round"/></g><g id="b_cap"><path d="M-4.6,-3.6 L-2.6,3.6 L-0.8,-3.6 M3.8,-2.8 Q3,-3.8 1.8,-3.6 Q0.4,-3.2 0.8,-1.6 Q1.2,-0.4 2.6,0.2 Q4.2,1 3.6,2.6 Q2.8,4 0.6,3.2" fill="none" stroke="currentColor" stroke-width="1.45" stroke-linecap="round" stroke-linejoin="round"/></g><g id="m_cap"><path d="M-4.6,-3.6 L-2.6,3.6 L-0.8,-3.6 M3.8,-2.8 Q3,-3.8 1.8,-3.6 Q0.4,-3.2 0.8,-1.6 Q1.2,-0.4 2.6,0.2 Q4.2,1 3.6,2.6 Q2.8,4 0.6,3.2" fill="none" stroke="currentColor" stroke-width="1.20" stroke-linecap="round" stroke-linejoin="round"/></g><g id="g_aqu"><path d="M-4.6,-0.2 L-2.3,-2.6 L0,-0.2 L2.3,-2.6 L4.6,-0.2 M-4.6,3.6 L-2.3,1.2 L0,3.6 L2.3,1.2 L4.6,3.6" fill="none" stroke="currentColor" stroke-width="1.5" stroke-linecap="round" stroke-linejoin="round"/></g><g id="b_aqu"><path d="M-4.6,-0.2 L-2.3,-2.6 L0,-0.2 L2.3,-2.6 L4.6,-0.2 M-4.6,3.6 L-2.3,1.2 L0,3.6 L2.3,1.2 L4.6,3.6" fill="none" stroke="currentColor" stroke-width="2.17" stroke-linecap="round" stroke-linejoin="round"/></g><g id="m_aqu"><path d="M-4.6,-0.2 L-2.3,-2.6 L0,-0.2 L2.3,-2.6 L4.6,-0.2 M-4.6,3.6 L-2.3,1.2 L0,3.6 L2.3,1.2 L4.6,3.6" fill="none" stroke="currentColor" stroke-width="1.80" stroke-linecap="round" stroke-linejoin="round"/></g><g id="g_pis"><path d="M-3.6,-4.4 Q-1,0 -3.6,4.4 M3.6,-4.4 Q1,0 3.6,4.4 M-2.6,0 L2.6,0" fill="none" stroke="currentColor" stroke-width="1.1" stroke-linecap="round" stroke-linejoin="round"/></g><g id="b_pis"><path d="M-3.6,-4.4 Q-1,0 -3.6,4.4 M3.6,-4.4 Q1,0 3.6,4.4 M-2.6,0 L2.6,0" fill="none" stroke="currentColor" stroke-width="1.59" stroke-linecap="round" stroke-linejoin="round"/></g><g id="m_pis"><path d="M-3.6,-4.4 Q-1,0 -3.6,4.4 M3.6,-4.4 Q1,0 3.6,4.4 M-2.6,0 L2.6,0" fill="none" stroke="currentColor" stroke-width="1.32" stroke-linecap="round" stroke-linejoin="round"/></g><g id="g_opp"><path d="M-2.2,1.2 L2.2,-1.2" fill="none" stroke="currentColor" stroke-width="1.4" stroke-linecap="round" stroke-linejoin="round"/><circle cx="-3.4" cy="1.6" r="1.6" fill="none" stroke="currentColor" stroke-width="1.4"/><circle cx="3.4" cy="-1.6" r="1.6" fill="none" stroke="currentColor" stroke-width="1.4"/></g><g id="b_opp"><path d="M-2.2,1.2 L2.2,-1.2" fill="none" stroke="currentColor" stroke-width="2.03" stroke-linecap="round" stroke-linejoin="round"/><circle cx="-3.4" cy="1.6" r="1.6" fill="none" stroke="currentColor" stroke-width="2.03"/><circle cx="3.4" cy="-1.6" r="1.6" fill="none" stroke="currentColor" stroke-width="2.03"/></g><g id="m_opp"><path d="M-2.2,1.2 L2.2,-1.2" fill="none" stroke="currentColor" stroke-width="1.68" stroke-linecap="round" stroke-linejoin="round"/><circle cx="-3.4" cy="1.6" r="1.6" fill="none" stroke="currentColor" stroke-width="1.68"/><circle cx="3.4" cy="-1.6" r="1.6" fill="none" stroke="currentColor" stroke-width="1.68"/></g><g id="g_con"><circle cx="-1.4" cy="1.6" r="1.9" fill="none" stroke="currentColor" stroke-width="1.7"/><path d="M0.4,-0.2 L4,-3.4" fill="none" stroke="currentColor" stroke-width="1.3" stroke-linecap="round" stroke-linejoin="round"/></g><g id="b_con"><circle cx="-1.4" cy="1.6" r="1.9" fill="none" stroke="currentColor" stroke-width="2.46"/><path d="M0.4,-0.2 L4,-3.4" fill="none" stroke="currentColor" stroke-width="1.89" stroke-linecap="round" stroke-linejoin="round"/></g><g id="m_con"><circle cx="-1.4" cy="1.6" r="1.9" fill="none" stroke="currentColor" stroke-width="2.04"/><path d="M0.4,-0.2 L4,-3.4" fill="none" stroke="currentColor" stroke-width="1.56" stroke-linecap="round" stroke-linejoin="round"/></g><g id="g_tri"><path d="M-3,3 L0,-3.2 L3,3Z" fill="none" stroke="currentColor" stroke-width="1.6" stroke-linecap="round" stroke-linejoin="round"/></g><g id="b_tri"><path d="M-3,3 L0,-3.2 L3,3Z" fill="none" stroke="currentColor" stroke-width="2.32" stroke-linecap="round" stroke-linejoin="round"/></g><g id="m_tri"><path d="M-3,3 L0,-3.2 L3,3Z" fill="none" stroke="currentColor" stroke-width="1.92" stroke-linecap="round" stroke-linejoin="round"/></g><g id="g_sqr"><path d="M-3.4,-3 L3.4,-3 L3.4,3.4 L-3.4,3.4Z" fill="none" stroke="currentColor" stroke-width="1.5" stroke-linecap="round" stroke-linejoin="round"/></g><g id="b_sqr"><path d="M-3.4,-3 L3.4,-3 L3.4,3.4 L-3.4,3.4Z" fill="none" stroke="currentColor" stroke-width="2.17" stroke-linecap="round" stroke-linejoin="round"/></g><g id="m_sqr"><path d="M-3.4,-3 L3.4,-3 L3.4,3.4 L-3.4,3.4Z" fill="none" stroke="currentColor" stroke-width="1.80" stroke-linecap="round" stroke-linejoin="round"/></g><g id="g_sex"><path d="M-4,0 L4,0 M-2,-3.5 L2,3.5 M2,-3.5 L-2,3.5" fill="none" stroke="currentColor" stroke-width="1.3" stroke-linecap="round" stroke-linejoin="round"/></g><g id="b_sex"><path d="M-4,0 L4,0 M-2,-3.5 L2,3.5 M2,-3.5 L-2,3.5" fill="none" stroke="currentColor" stroke-width="1.89" stroke-linecap="round" stroke-linejoin="round"/></g><g id="m_sex"><path d="M-4,0 L4,0 M-2,-3.5 L2,3.5 M2,-3.5 L-2,3.5" fill="none" stroke="currentColor" stroke-width="1.56" stroke-linecap="round" stroke-linejoin="round"/></g><g id="g_qcx"><path d="M-4.4,-1.2 L4.4,-1.2 M0,-1.2 L-3.6,3.6 M0,-1.2 L3.6,3.6" fill="none" stroke="currentColor" stroke-width="1.2" stroke-linecap="round" stroke-linejoin="round"/></g><g id="b_qcx"><path d="M-4.4,-1.2 L4.4,-1.2 M0,-1.2 L-3.6,3.6 M0,-1.2 L3.6,3.6" fill="none" stroke="currentColor" stroke-width="1.74" stroke-linecap="round" stroke-linejoin="round"/></g><g id="m_qcx"><path d="M-4.4,-1.2 L4.4,-1.2 M0,-1.2 L-3.6,3.6 M0,-1.2 L3.6,3.6" fill="none" stroke="currentColor" stroke-width="1.44" stroke-linecap="round" stroke-linejoin="round"/></g><g id="g_qui"><path d="M-1.6,3.2 Q-3.4,1 -2.4,-1.4 Q-1.4,-3.4 0,-3.4 Q1.4,-3.4 2.4,-1.4 Q3.4,1 1.6,3.2 M-2.8,3.2 L-0.6,3.2 M0.6,3.2 L2.8,3.2" fill="none" stroke="currentColor" stroke-width="1.9" stroke-linecap="round" stroke-linejoin="round"/></g><g id="b_qui"><path d="M-1.6,3.2 Q-3.4,1 -2.4,-1.4 Q-1.4,-3.4 0,-3.4 Q1.4,-3.4 2.4,-1.4 Q3.4,1 1.6,3.2 M-2.8,3.2 L-0.6,3.2 M0.6,3.2 L2.8,3.2" fill="none" stroke="currentColor" stroke-width="2.75" stroke-linecap="round" stroke-linejoin="round"/></g><g id="m_qui"><path d="M-1.6,3.2 Q-3.4,1 -2.4,-1.4 Q-1.4,-3.4 0,-3.4 Q1.4,-3.4 2.4,-1.4 Q3.4,1 1.6,3.2 M-2.8,3.2 L-0.6,3.2 M0.6,3.2 L2.8,3.2" fill="none" stroke="currentColor" stroke-width="2.28" stroke-linecap="round" stroke-linejoin="round"/></g><g id="g_bqu"><path d="M-4.2,-3.4 L-4.2,3 Q-1.6,3.4 -1.8,0.8 Q-1.8,-1.2 -4.2,0 M1.4,3.2 Q-0.2,1 0.6,-1.4 Q1.4,-3.4 2.6,-3.4 Q3.8,-3.4 4.4,-1.4 Q5,1 3.6,3.2 M0.4,3.2 L4.6,3.2" fill="none" stroke="currentColor" stroke-width="1.9" stroke-linecap="round" stroke-linejoin="round"/></g><g id="b_bqu"><path d="M-4.2,-3.4 L-4.2,3 Q-1.6,3.4 -1.8,0.8 Q-1.8,-1.2 -4.2,0 M1.4,3.2 Q-0.2,1 0.6,-1.4 Q1.4,-3.4 2.6,-3.4 Q3.8,-3.4 4.4,-1.4 Q5,1 3.6,3.2 M0.4,3.2 L4.6,3.2" fill="none" stroke="currentColor" stroke-width="2.75" stroke-linecap="round" stroke-linejoin="round"/></g><g id="m_bqu"><path d="M-4.2,-3.4 L-4.2,3 Q-1.6,3.4 -1.8,0.8 Q-1.8,-1.2 -4.2,0 M1.4,3.2 Q-0.2,1 0.6,-1.4 Q1.4,-3.4 2.6,-3.4 Q3.8,-3.4 4.4,-1.4 Q5,1 3.6,3.2 M0.4,3.2 L4.6,3.2" fill="none" stroke="currentColor" stroke-width="2.28" stroke-linecap="round" stroke-linejoin="round"/></g><g id="g_rx"><path d="M-3,4 L-3,-4 L0,-4 Q2.6,-4 2.6,-1.6 Q2.6,0.6 0,0.6 L-3,0.6 M0,0.6 L3.4,4 M1.2,4 L3.4,1.8" fill="none" stroke="currentColor" stroke-width="1.0" stroke-linecap="round" stroke-linejoin="round"/></g><g id="b_rx"><path d="M-3,4 L-3,-4 L0,-4 Q2.6,-4 2.6,-1.6 Q2.6,0.6 0,0.6 L-3,0.6 M0,0.6 L3.4,4 M1.2,4 L3.4,1.8" fill="none" stroke="currentColor" stroke-width="1.45" stroke-linecap="round" stroke-linejoin="round"/></g><g id="m_rx"><path d="M-3,4 L-3,-4 L0,-4 Q2.6,-4 2.6,-1.6 Q2.6,0.6 0,0.6 L-3,0.6 M0,0.6 L3.4,4 M1.2,4 L3.4,1.8" fill="none" stroke="currentColor" stroke-width="1.20" stroke-linecap="round" stroke-linejoin="round"/></g><g id="g_stat"><path d="M2.6,-3.2 Q1.6,-4.4 0,-4.4 Q-2.6,-4.4 -2.6,-2.2 Q-2.6,-0.4 0,0 Q2.6,0.4 2.6,2.4 Q2.6,4.4 0,4.4 Q-1.8,4.4 -2.6,3.2" fill="none" stroke="currentColor" stroke-width="1.0" stroke-linecap="round" stroke-linejoin="round"/></g><g id="b_stat"><path d="M2.6,-3.2 Q1.6,-4.4 0,-4.4 Q-2.6,-4.4 -2.6,-2.2 Q-2.6,-0.4 0,0 Q2.6,0.4 2.6,2.4 Q2.6,4.4 0,4.4 Q-1.8,4.4 -2.6,3.2" fill="none" stroke="currentColor" stroke-width="1.45" stroke-linecap="round" stroke-linejoin="round"/></g><g id="m_stat"><path d="M2.6,-3.2 Q1.6,-4.4 0,-4.4 Q-2.6,-4.4 -2.6,-2.2 Q-2.6,-0.4 0,0 Q2.6,0.4 2.6,2.4 Q2.6,4.4 0,4.4 Q-1.8,4.4 -2.6,3.2" fill="none" stroke="currentColor" stroke-width="1.20" stroke-linecap="round" stroke-linejoin="round"/></g></defs><rect width="1024" height="566" fill="#fff"/><text x="11.00" y="17.00" font-size="12" text-anchor="start" font-weight="bold" font-style="normal" fill="#000" textLength="198" lengthAdjust="spacingAndGlyphs" >20.10.2021 Koc Burcunda Dolunay</text>
<text x="11.00" y="29.00" font-size="10" text-anchor="start" font-weight="bold" font-style="normal" fill="#000" textLength="57.6" lengthAdjust="spacingAndGlyphs" >Event Chart</text>
<text x="11.00" y="40.40" font-size="9.5" text-anchor="start" font-weight="normal" font-style="normal" fill="#000" textLength="51.7" lengthAdjust="spacingAndGlyphs" >20 Oct 2021,</text>
<use href="#g_uranus" transform="translate(69.40,36.80) scale(0.750)" style="color:#000"/>
<text x="72.50" y="40.40" font-size="9.5" text-anchor="start" font-weight="normal" font-style="normal" fill="#000" textLength="10.5" lengthAdjust="spacingAndGlyphs" >ar</text>
<text x="11.00" y="51.60" font-size="9.5" text-anchor="start" font-weight="normal" font-style="normal" fill="#000" textLength="79" lengthAdjust="spacingAndGlyphs" >15:57  EEDT -3:00</text>
<text x="11.00" y="63.00" font-size="9.5" text-anchor="start" font-weight="normal" font-style="normal" fill="#000" textLength="62.6" lengthAdjust="spacingAndGlyphs" >Ankara, Turkey</text>
<text x="11.00" y="74.20" font-size="9.5" text-anchor="start" font-weight="normal" font-style="normal" fill="#000" textLength="71" lengthAdjust="spacingAndGlyphs" >39°N56' 032°E52'</text>
<text x="13.00" y="85.30" font-size="9.5" text-anchor="start" font-weight="normal" font-style="italic" fill="#000" textLength="44.5" lengthAdjust="spacingAndGlyphs" >Geocentric</text>
<text x="13.00" y="95.80" font-size="9.5" text-anchor="start" font-weight="normal" font-style="italic" fill="#000" textLength="34" lengthAdjust="spacingAndGlyphs" >Tropical</text>
<text x="13.00" y="107.60" font-size="9.5" text-anchor="start" font-weight="normal" font-style="italic" fill="#000" textLength="34.5" lengthAdjust="spacingAndGlyphs" >Placidus</text>
<text x="13.50" y="119.40" font-size="9.5" text-anchor="start" font-weight="normal" font-style="italic" fill="#000" textLength="43.5" lengthAdjust="spacingAndGlyphs" >True Node</text>
<text x="654.60" y="18.10" font-size="11.3" text-anchor="start" font-weight="normal" font-style="normal" fill="#444" textLength="58.6" lengthAdjust="spacingAndGlyphs" >ancient.pag</text>
<circle cx="418.5" cy="175.75" r="169.5" fill="none" stroke="#333" stroke-width="1"/>
<circle cx="418.5" cy="175.75" r="149.0" fill="none" stroke="#333" stroke-width="1"/>
<circle cx="418.5" cy="175.75" r="84.6" fill="none" stroke="#333" stroke-width="1"/>
<circle cx="418.5" cy="175.75" r="69.5" fill="none" stroke="#333" stroke-width="1"/>
<line x1="269.50" y1="175.75" x2="349.00" y2="175.75" stroke="#222" stroke-width="1" />
<line x1="315.13" y1="283.06" x2="370.28" y2="225.80" stroke="#222" stroke-width="1" />
<line x1="385.41" y1="321.03" x2="403.07" y2="243.51" stroke="#222" stroke-width="1" />
<line x1="445.27" y1="322.33" x2="430.99" y2="244.12" stroke="#222" stroke-width="1" />
<line x1="496.40" y1="302.77" x2="454.83" y2="235.00" stroke="#222" stroke-width="1" />
<line x1="541.19" y1="260.29" x2="475.73" y2="215.19" stroke="#222" stroke-width="1" />
<line x1="567.50" y1="175.75" x2="488.00" y2="175.75" stroke="#222" stroke-width="1" />
<line x1="521.87" y1="68.44" x2="466.72" y2="125.70" stroke="#222" stroke-width="1" />
<line x1="451.59" y1="30.47" x2="433.93" y2="107.99" stroke="#222" stroke-width="1" />
<line x1="391.73" y1="29.17" x2="406.01" y2="107.38" stroke="#222" stroke-width="1" />
<line x1="340.60" y1="48.73" x2="382.17" y2="116.50" stroke="#222" stroke-width="1" />
<line x1="295.81" y1="91.21" x2="361.27" y2="136.31" stroke="#222" stroke-width="1" />
<path d="M391.73,29.17 L387.64,37.14 L398.37,35.18Z" fill="#000"/>
<text x="347.64" y="208.48" font-size="7.4" text-anchor="middle" font-weight="normal" font-style="normal" fill="#909090" >1</text>
<text x="381.90" y="246.10" font-size="7.4" text-anchor="middle" font-weight="normal" font-style="normal" fill="#909090" >2</text>
<text x="416.83" y="255.33" font-size="7.4" text-anchor="middle" font-weight="normal" font-style="normal" fill="#909090" >3</text>
<text x="446.01" y="250.27" font-size="7.4" text-anchor="middle" font-weight="normal" font-style="normal" fill="#909090" >4</text>
<text x="471.48" y="234.23" font-size="7.4" text-anchor="middle" font-weight="normal" font-style="normal" fill="#909090" >5</text>
<text x="492.02" y="201.23" font-size="7.4" text-anchor="middle" font-weight="normal" font-style="normal" fill="#909090" >6</text>
<text x="489.36" y="148.22" font-size="7.4" text-anchor="middle" font-weight="normal" font-style="normal" fill="#909090" >7</text>
<text x="455.10" y="110.60" font-size="7.4" text-anchor="middle" font-weight="normal" font-style="normal" fill="#909090" >8</text>
<text x="420.17" y="101.37" font-size="7.4" text-anchor="middle" font-weight="normal" font-style="normal" fill="#909090" >9</text>
<text x="390.99" y="106.43" font-size="7.4" text-anchor="middle" font-weight="normal" font-style="normal" fill="#909090" >10</text>
<text x="365.52" y="122.47" font-size="7.4" text-anchor="middle" font-weight="normal" font-style="normal" fill="#909090" >11</text>
<text x="344.98" y="155.47" font-size="7.4" text-anchor="middle" font-weight="normal" font-style="normal" fill="#909090" >12</text>
<text x="376.30" y="24.10" font-size="8.3" text-anchor="middle" font-weight="normal" font-style="normal" fill="#151515" textLength="11.19" lengthAdjust="spacingAndGlyphs" >17°</text>
<use href="#g_sag" transform="translate(390.20,18.40) scale(0.880)" style="color:#d84848"/>
<text x="404.60" y="20.10" font-size="8.3" text-anchor="middle" font-weight="normal" font-style="normal" fill="#151515" textLength="9.87" lengthAdjust="spacingAndGlyphs" >24’</text>
<text x="440.50" y="19.70" font-size="8.3" text-anchor="middle" font-weight="normal" font-style="normal" fill="#151515" textLength="11.19" lengthAdjust="spacingAndGlyphs" >24°</text>
<use href="#g_sco" transform="translate(453.40,19.50) scale(0.880)" style="color:#4040c0"/>
<text x="468.30" y="27.60" font-size="8.3" text-anchor="middle" font-weight="normal" font-style="normal" fill="#151515" textLength="9.87" lengthAdjust="spacingAndGlyphs" >13’</text>
<text x="519.00" y="54.70" font-size="8.3" text-anchor="middle" font-weight="normal" font-style="normal" fill="#151515" textLength="11.19" lengthAdjust="spacingAndGlyphs" >23°</text>
<use href="#g_lib" transform="translate(529.30,60.70) scale(0.880)" style="color:#40c4d4"/>
<text x="540.30" y="74.20" font-size="8.3" text-anchor="middle" font-weight="normal" font-style="normal" fill="#151515" textLength="9.87" lengthAdjust="spacingAndGlyphs" >07’</text>
<text x="578.60" y="164.70" font-size="8.3" text-anchor="middle" font-weight="normal" font-style="normal" fill="#151515" textLength="11.19" lengthAdjust="spacingAndGlyphs" >07°</text>
<use href="#g_vir" transform="translate(578.30,175.10) scale(0.880)" style="color:#58c858"/>
<text x="578.60" y="192.10" font-size="8.3" text-anchor="middle" font-weight="normal" font-style="normal" fill="#151515" textLength="9.87" lengthAdjust="spacingAndGlyphs" >03’</text>
<text x="555.10" y="258.60" font-size="8.3" text-anchor="middle" font-weight="normal" font-style="normal" fill="#151515" textLength="9.87" lengthAdjust="spacingAndGlyphs" >29’</text>
<use href="#g_leo" transform="translate(549.50,267.10) scale(0.880)" style="color:#d84848"/>
<text x="541.90" y="278.90" font-size="8.3" text-anchor="middle" font-weight="normal" font-style="normal" fill="#151515" textLength="11.19" lengthAdjust="spacingAndGlyphs" >02°</text>
<text x="514.60" y="306.50" font-size="8.3" text-anchor="middle" font-weight="normal" font-style="normal" fill="#151515" textLength="9.87" lengthAdjust="spacingAndGlyphs" >34’</text>
<use href="#g_can" transform="translate(502.00,310.60) scale(0.880)" style="color:#4040c0"/>
<text x="489.90" y="320.60" font-size="8.3" text-anchor="middle" font-weight="normal" font-style="normal" fill="#151515" textLength="11.19" lengthAdjust="spacingAndGlyphs" >08°</text>
<text x="435.00" y="336.30" font-size="8.3" text-anchor="middle" font-weight="normal" font-style="normal" fill="#151515" textLength="11.19" lengthAdjust="spacingAndGlyphs" >17°</text>
<use href="#g_gem" transform="translate(446.40,331.90) scale(0.880)" style="color:#40c4d4"/>
<text x="459.30" y="333.90" font-size="8.3" text-anchor="middle" font-weight="normal" font-style="normal" fill="#151515" textLength="9.87" lengthAdjust="spacingAndGlyphs" >24’</text>
<text x="368.60" y="329.50" font-size="8.3" text-anchor="middle" font-weight="normal" font-style="normal" fill="#151515" textLength="11.19" lengthAdjust="spacingAndGlyphs" >24°</text>
<use href="#g_tau" transform="translate(382.40,331.00) scale(0.880)" style="color:#58c858"/>
<text x="397.80" y="336.50" font-size="8.3" text-anchor="middle" font-weight="normal" font-style="normal" fill="#151515" textLength="9.87" lengthAdjust="spacingAndGlyphs" >13’</text>
<text x="298.30" y="283.70" font-size="8.3" text-anchor="middle" font-weight="normal" font-style="normal" fill="#151515" textLength="11.19" lengthAdjust="spacingAndGlyphs" >23°</text>
<use href="#g_ari" transform="translate(306.80,291.30) scale(0.880)" style="color:#d84848"/>
<text x="319.30" y="303.00" font-size="8.3" text-anchor="middle" font-weight="normal" font-style="normal" fill="#151515" textLength="9.87" lengthAdjust="spacingAndGlyphs" >07’</text>
<text x="259.30" y="164.40" font-size="8.3" text-anchor="middle" font-weight="normal" font-style="normal" fill="#151515" textLength="11.19" lengthAdjust="spacingAndGlyphs" >07°</text>
<use href="#g_pis" transform="translate(259.00,175.60) scale(0.880)" style="color:#4040c0"/>
<text x="259.70" y="192.70" font-size="8.3" text-anchor="middle" font-weight="normal" font-style="normal" fill="#151515" textLength="9.87" lengthAdjust="spacingAndGlyphs" >03’</text>
<text x="296.30" y="77.00" font-size="8.3" text-anchor="middle" font-weight="normal" font-style="normal" fill="#151515" textLength="9.87" lengthAdjust="spacingAndGlyphs" >29’</text>
<use href="#g_aqu" transform="translate(286.20,84.70) scale(0.880)" style="color:#40c4d4"/>
<text x="280.30" y="100.00" font-size="8.3" text-anchor="middle" font-weight="normal" font-style="normal" fill="#151515" textLength="11.19" lengthAdjust="spacingAndGlyphs" >02°</text>
<text x="348.10" y="36.50" font-size="8.3" text-anchor="middle" font-weight="normal" font-style="normal" fill="#151515" textLength="9.87" lengthAdjust="spacingAndGlyphs" >34’</text>
<use href="#g_cap" transform="translate(335.40,38.90) scale(0.880)" style="color:#58c858"/>
<text x="323.30" y="48.90" font-size="8.3" text-anchor="middle" font-weight="normal" font-style="normal" fill="#151515" textLength="11.19" lengthAdjust="spacingAndGlyphs" >08°</text>
<use href="#m_venus" transform="translate(402.00,37.70) scale(1.000)" style="color:#1ca0b0"/>
<text x="404.50" y="55.40" font-size="8.3" text-anchor="middle" font-weight="normal" font-style="normal" fill="#151515" textLength="11.19" lengthAdjust="spacingAndGlyphs" >14°</text>
<use href="#g_sag" transform="translate(404.20,63.80) scale(0.760)" style="color:#d84848"/>
<text x="406.60" y="78.00" font-size="8.3" text-anchor="middle" font-weight="normal" font-style="normal" fill="#151515" textLength="9.87" lengthAdjust="spacingAndGlyphs" >01’</text>
<use href="#m_snode" transform="translate(431.00,37.00) scale(1.000)" style="color:#000"/>
<text x="429.90" y="55.40" font-size="8.3" text-anchor="middle" font-weight="normal" font-style="normal" fill="#151515" textLength="11.19" lengthAdjust="spacingAndGlyphs" >02°</text>
<use href="#g_sag" transform="translate(429.00,62.40) scale(0.760)" style="color:#d84848"/>
<text x="428.50" y="76.60" font-size="8.3" text-anchor="middle" font-weight="normal" font-style="normal" fill="#151515" textLength="9.87" lengthAdjust="spacingAndGlyphs" >00’</text>
<use href="#g_rx" transform="translate(427.50,83.60) scale(0.620)" style="color:#d04040"/>
<use href="#m_trans" transform="translate(383.00,41.20) scale(1.000)" style="color:#000"/>
<text x="387.50" y="58.20" font-size="8.3" text-anchor="middle" font-weight="normal" font-style="normal" fill="#151515" textLength="11.19" lengthAdjust="spacingAndGlyphs" >21°</text>
<use href="#g_sag" transform="translate(390.00,66.00) scale(0.760)" style="color:#d84848"/>
<text x="392.50" y="80.10" font-size="8.3" text-anchor="middle" font-weight="normal" font-style="normal" fill="#151515" textLength="9.87" lengthAdjust="spacingAndGlyphs" >52’</text>
<use href="#m_cupido" transform="translate(359.00,49.70) scale(1.000)" style="color:#000"/>
<text x="366.30" y="66.70" font-size="8.3" text-anchor="middle" font-weight="normal" font-style="normal" fill="#151515" textLength="11.19" lengthAdjust="spacingAndGlyphs" >02°</text>
<use href="#g_cap" transform="translate(371.00,73.70) scale(0.760)" style="color:#58c858"/>
<text x="376.30" y="86.50" font-size="8.3" text-anchor="middle" font-weight="normal" font-style="normal" fill="#151515" textLength="9.87" lengthAdjust="spacingAndGlyphs" >12’</text>
<use href="#m_pluto" transform="translate(316.20,81.20) scale(1.000)" style="color:#901818"/>
<text x="327.10" y="94.70" font-size="8.3" text-anchor="middle" font-weight="normal" font-style="normal" fill="#151515" textLength="11.19" lengthAdjust="spacingAndGlyphs" >24°</text>
<use href="#g_cap" transform="translate(334.80,100.60) scale(0.760)" style="color:#58c858"/>
<text x="344.80" y="109.70" font-size="8.3" text-anchor="middle" font-weight="normal" font-style="normal" fill="#151515" textLength="9.87" lengthAdjust="spacingAndGlyphs" >21’</text>
<use href="#m_saturn" transform="translate(297.70,106.00) scale(1.000)" style="color:#901818"/>
<text x="312.10" y="115.90" font-size="8.3" text-anchor="middle" font-weight="normal" font-style="normal" fill="#151515" textLength="11.19" lengthAdjust="spacingAndGlyphs" >06°</text>
<use href="#g_aqu" transform="translate(320.70,120.00) scale(0.760)" style="color:#40c4d4"/>
<text x="330.70" y="128.30" font-size="8.3" text-anchor="middle" font-weight="normal" font-style="normal" fill="#151515" textLength="9.87" lengthAdjust="spacingAndGlyphs" >57’</text>
<use href="#m_jupiter" transform="translate(282.70,143.00) scale(1.000)" style="color:#9c9c9c"/>
<text x="299.80" y="146.80" font-size="8.3" text-anchor="middle" font-weight="normal" font-style="normal" fill="#151515" textLength="11.19" lengthAdjust="spacingAndGlyphs" >22°</text>
<use href="#g_aqu" transform="translate(309.20,147.50) scale(0.760)" style="color:#40c4d4"/>
<text x="320.10" y="153.00" font-size="8.3" text-anchor="middle" font-weight="normal" font-style="normal" fill="#151515" textLength="9.87" lengthAdjust="spacingAndGlyphs" >20’</text>
<use href="#m_axt" transform="translate(282.70,208.30) scale(1.000)" style="color:#000"/>
<text x="298.00" y="205.90" font-size="8.3" text-anchor="middle" font-weight="normal" font-style="normal" fill="#151515" textLength="11.19" lengthAdjust="spacingAndGlyphs" >20°</text>
<use href="#g_pis" transform="translate(308.30,202.10) scale(0.760)" style="color:#4040c0"/>
<text x="321.00" y="202.30" font-size="8.3" text-anchor="middle" font-weight="normal" font-style="normal" fill="#151515" textLength="9.33" lengthAdjust="spacingAndGlyphs" >11’</text>
<use href="#m_neptune" transform="translate(287.10,221.50) scale(1.000)" style="color:#1ca0b0"/>
<text x="301.50" y="219.10" font-size="8.3" text-anchor="middle" font-weight="normal" font-style="normal" fill="#151515" textLength="11.19" lengthAdjust="spacingAndGlyphs" >20°</text>
<use href="#g_pis" transform="translate(311.80,213.60) scale(0.760)" style="color:#4040c0"/>
<text x="322.70" y="212.10" font-size="8.3" text-anchor="middle" font-weight="normal" font-style="normal" fill="#151515" textLength="9.87" lengthAdjust="spacingAndGlyphs" >52’</text>
<use href="#g_rx" transform="translate(331.30,207.40) scale(0.620)" style="color:#d04040"/>
<use href="#m_aries_pt" transform="translate(292.40,233.00) scale(1.000)" style="color:#000"/>
<text x="305.90" y="230.60" font-size="8.3" text-anchor="middle" font-weight="normal" font-style="normal" fill="#151515" textLength="11.19" lengthAdjust="spacingAndGlyphs" >00°</text>
<use href="#g_ari" transform="translate(316.20,223.30) scale(0.760)" style="color:#d84848"/>
<text x="326.30" y="222.70" font-size="8.3" text-anchor="middle" font-weight="normal" font-style="normal" fill="#151515" textLength="9.87" lengthAdjust="spacingAndGlyphs" >00’</text>
<use href="#m_chiron" transform="translate(301.20,251.60) scale(1.000)" style="color:#289028"/>
<text x="313.90" y="244.70" font-size="8.3" text-anchor="middle" font-weight="normal" font-style="normal" fill="#151515" textLength="11.19" lengthAdjust="spacingAndGlyphs" >09°</text>
<use href="#g_ari" transform="translate(323.30,236.50) scale(0.760)" style="color:#d84848"/>
<text x="332.40" y="234.10" font-size="8.3" text-anchor="middle" font-weight="normal" font-style="normal" fill="#151515" textLength="9.87" lengthAdjust="spacingAndGlyphs" >54’</text>
<use href="#g_rx" transform="translate(340.10,226.80) scale(0.620)" style="color:#d04040"/>
<use href="#m_moon" transform="translate(327.70,282.40) scale(1.000)" style="color:#c4c430"/>
<text x="337.70" y="272.10" font-size="8.3" text-anchor="middle" font-weight="normal" font-style="normal" fill="#151515" textLength="11.19" lengthAdjust="spacingAndGlyphs" >26°</text>
<use href="#g_ari" transform="translate(345.30,261.20) scale(0.760)" style="color:#d84848"/>
<text x="352.70" y="256.20" font-size="8.3" text-anchor="middle" font-weight="normal" font-style="normal" fill="#151515" textLength="9.87" lengthAdjust="spacingAndGlyphs" >25’</text>
<use href="#m_uranus" transform="translate(362.10,304.50) scale(1.000)" style="color:#2424c0"/>
<text x="369.50" y="291.50" font-size="8.3" text-anchor="middle" font-weight="normal" font-style="normal" fill="#151515" textLength="11.19" lengthAdjust="spacingAndGlyphs" >13°</text>
<use href="#g_tau" transform="translate(372.70,278.90) scale(0.760)" style="color:#58c858"/>
<text x="378.30" y="272.10" font-size="8.3" text-anchor="middle" font-weight="normal" font-style="normal" fill="#151515" textLength="9.87" lengthAdjust="spacingAndGlyphs" >24’</text>
<use href="#g_rx" transform="translate(380.70,261.20) scale(0.620)" style="color:#d04040"/>
<use href="#m_node" transform="translate(406.30,316.00) scale(1.000)" style="color:#000"/>
<text x="407.50" y="301.20" font-size="8.3" text-anchor="middle" font-weight="normal" font-style="normal" fill="#151515" textLength="11.19" lengthAdjust="spacingAndGlyphs" >02°</text>
<use href="#g_gem" transform="translate(409.00,288.60) scale(0.760)" style="color:#40c4d4"/>
<text x="411.00" y="280.00" font-size="8.3" text-anchor="middle" font-weight="normal" font-style="normal" fill="#151515" textLength="9.87" lengthAdjust="spacingAndGlyphs" >00’</text>
<use href="#g_rx" transform="translate(410.70,269.20) scale(0.620)" style="color:#d04040"/>
<use href="#m_admetos" transform="translate(421.30,316.00) scale(1.000)" style="color:#000"/>
<text x="420.70" y="301.20" font-size="8.3" text-anchor="middle" font-weight="normal" font-style="normal" fill="#151515" textLength="11.19" lengthAdjust="spacingAndGlyphs" >02°</text>
<use href="#g_gem" transform="translate(420.40,288.60) scale(0.760)" style="color:#40c4d4"/>
<text x="422.50" y="280.00" font-size="8.3" text-anchor="middle" font-weight="normal" font-style="normal" fill="#151515" textLength="9.87" lengthAdjust="spacingAndGlyphs" >53’</text>
<use href="#g_rx" transform="translate(419.50,269.20) scale(0.620)" style="color:#d04040"/>
<use href="#m_hades" transform="translate(499.20,290.10) scale(1.000)" style="color:#000"/>
<text x="489.80" y="278.90" font-size="8.3" text-anchor="middle" font-weight="normal" font-style="normal" fill="#151515" textLength="10.64" lengthAdjust="spacingAndGlyphs" >11°</text>
<use href="#g_can" transform="translate(482.40,268.00) scale(0.760)" style="color:#4040c0"/>
<text x="476.50" y="262.10" font-size="8.3" text-anchor="middle" font-weight="normal" font-style="normal" fill="#151515" textLength="9.87" lengthAdjust="spacingAndGlyphs" >40’</text>
<use href="#g_rx" transform="translate(471.80,252.10) scale(0.620)" style="color:#d04040"/>
<use href="#m_kronos" transform="translate(510.70,282.20) scale(1.000)" style="color:#000"/>
<text x="501.30" y="271.80" font-size="8.3" text-anchor="middle" font-weight="normal" font-style="normal" fill="#151515" textLength="11.19" lengthAdjust="spacingAndGlyphs" >14°</text>
<use href="#g_can" transform="translate(493.00,261.80) scale(0.760)" style="color:#4040c0"/>
<text x="485.30" y="255.90" font-size="8.3" text-anchor="middle" font-weight="normal" font-style="normal" fill="#151515" textLength="9.87" lengthAdjust="spacingAndGlyphs" >08’</text>
<use href="#g_rx" transform="translate(478.90,246.80) scale(0.620)" style="color:#d04040"/>
<use href="#m_vulkanus" transform="translate(536.30,250.40) scale(1.000)" style="color:#000"/>
<text x="523.30" y="243.50" font-size="8.3" text-anchor="middle" font-weight="normal" font-style="normal" fill="#151515" textLength="11.19" lengthAdjust="spacingAndGlyphs" >02°</text>
<use href="#g_leo" transform="translate(515.10,235.30) scale(0.760)" style="color:#d84848"/>
<text x="506.60" y="232.10" font-size="8.3" text-anchor="middle" font-weight="normal" font-style="normal" fill="#151515" textLength="9.87" lengthAdjust="spacingAndGlyphs" >54’</text>
<use href="#m_pof" transform="translate(558.00,183.00) scale(1.000)" style="color:#000"/>
<text x="541.50" y="184.20" font-size="8.3" text-anchor="middle" font-weight="normal" font-style="normal" fill="#151515" textLength="11.19" lengthAdjust="spacingAndGlyphs" >06°</text>
<use href="#g_vir" transform="translate(530.60,182.20) scale(0.760)" style="color:#58c858"/>
<text x="520.30" y="184.20" font-size="8.3" text-anchor="middle" font-weight="normal" font-style="normal" fill="#151515" textLength="9.87" lengthAdjust="spacingAndGlyphs" >07’</text>
<use href="#m_vx" transform="translate(554.50,144.20) scale(1.000)" style="color:#000"/>
<text x="539.80" y="150.60" font-size="8.3" text-anchor="middle" font-weight="normal" font-style="normal" fill="#151515" textLength="11.19" lengthAdjust="spacingAndGlyphs" >20°</text>
<use href="#g_vir" transform="translate(528.90,150.40) scale(0.760)" style="color:#58c858"/>
<text x="517.70" y="155.00" font-size="8.3" text-anchor="middle" font-weight="normal" font-style="normal" fill="#151515" textLength="9.33" lengthAdjust="spacingAndGlyphs" >11’</text>
<use href="#m_mercury" transform="translate(535.50,98.70) scale(1.000)" style="color:#a030b0"/>
<text x="522.50" y="109.50" font-size="8.3" text-anchor="middle" font-weight="normal" font-style="normal" fill="#151515" textLength="11.19" lengthAdjust="spacingAndGlyphs" >10°</text>
<use href="#g_lib" transform="translate(512.50,113.70) scale(0.760)" style="color:#40c4d4"/>
<text x="502.20" y="121.90" font-size="8.3" text-anchor="middle" font-weight="normal" font-style="normal" fill="#151515" textLength="9.87" lengthAdjust="spacingAndGlyphs" >27’</text>
<use href="#g_stat" transform="translate(496.20,124.70) scale(0.560)" style="color:#222"/>
<use href="#m_zeus" transform="translate(520.40,81.00) scale(1.000)" style="color:#000"/>
<text x="509.30" y="94.50" font-size="8.3" text-anchor="middle" font-weight="normal" font-style="normal" fill="#151515" textLength="11.19" lengthAdjust="spacingAndGlyphs" >22°</text>
<use href="#g_lib" transform="translate(500.00,99.50) scale(0.760)" style="color:#40c4d4"/>
<text x="493.30" y="109.50" font-size="8.3" text-anchor="middle" font-weight="normal" font-style="normal" fill="#151515" textLength="9.87" lengthAdjust="spacingAndGlyphs" >02’</text>
<use href="#m_mars" transform="translate(511.60,70.40) scale(1.000)" style="color:#e02828"/>
<text x="499.50" y="84.80" font-size="8.3" text-anchor="middle" font-weight="normal" font-style="normal" fill="#151515" textLength="11.19" lengthAdjust="spacingAndGlyphs" >23°</text>
<use href="#g_lib" transform="translate(492.00,91.60) scale(0.760)" style="color:#40c4d4"/>
<text x="486.30" y="101.60" font-size="8.3" text-anchor="middle" font-weight="normal" font-style="normal" fill="#151515" textLength="9.87" lengthAdjust="spacingAndGlyphs" >16’</text>
<use href="#m_sun" transform="translate(498.30,61.50) scale(1.000)" style="color:#b4b422"/>
<text x="490.70" y="75.90" font-size="8.3" text-anchor="middle" font-weight="normal" font-style="normal" fill="#151515" textLength="11.19" lengthAdjust="spacingAndGlyphs" >27°</text>
<use href="#g_lib" transform="translate(482.40,82.80) scale(0.760)" style="color:#40c4d4"/>
<text x="478.30" y="95.40" font-size="8.3" text-anchor="middle" font-weight="normal" font-style="normal" fill="#151515" textLength="9.87" lengthAdjust="spacingAndGlyphs" >21’</text>
<use href="#m_apollon" transform="translate(486.00,54.50) scale(1.000)" style="color:#000"/>
<text x="479.30" y="69.70" font-size="8.3" text-anchor="middle" font-weight="normal" font-style="normal" fill="#151515" textLength="11.19" lengthAdjust="spacingAndGlyphs" >04°</text>
<use href="#g_sco" transform="translate(472.70,76.60) scale(0.760)" style="color:#4040c0"/>
<text x="468.60" y="89.20" font-size="8.3" text-anchor="middle" font-weight="normal" font-style="normal" fill="#151515" textLength="9.87" lengthAdjust="spacingAndGlyphs" >02’</text>
<use href="#m_poseidon" transform="translate(471.80,47.40) scale(1.000)" style="color:#000"/>
<text x="466.80" y="63.60" font-size="8.3" text-anchor="middle" font-weight="normal" font-style="normal" fill="#151515" textLength="11.19" lengthAdjust="spacingAndGlyphs" >14°</text>
<use href="#g_sco" transform="translate(462.00,72.00) scale(0.760)" style="color:#4040c0"/>
<text x="458.90" y="84.80" font-size="8.3" text-anchor="middle" font-weight="normal" font-style="normal" fill="#151515" textLength="9.87" lengthAdjust="spacingAndGlyphs" >18’</text>
<line x1="462.89" y1="122.28" x2="373.24" y2="228.50" stroke="#d86868" stroke-width="0.85"/>
<line x1="410.07" y1="106.76" x2="476.52" y2="137.49" stroke="#2828c0" stroke-width="1.0"/>
<line x1="466.59" y1="125.57" x2="373.24" y2="228.50" stroke="#d86868" stroke-width="0.85"/>
<line x1="351.28" y1="158.09" x2="373.24" y2="228.50" stroke="#2828c0" stroke-width="1.0"/>
<line x1="351.28" y1="158.09" x2="462.89" y2="122.28" stroke="#2828c0" stroke-width="1.1"/>
<line x1="351.28" y1="158.09" x2="466.59" y2="125.57" stroke="#2828c0" stroke-width="1.1"/>
<line x1="358.37" y1="140.90" x2="476.52" y2="137.49" stroke="#2828c0" stroke-width="1.1"/>
<line x1="390.62" y1="239.41" x2="476.52" y2="137.49" stroke="#58a858" stroke-width="0.6"/>
<line x1="390.62" y1="239.41" x2="410.07" y2="106.76" stroke="#58a858" stroke-width="0.6"/>
<line x1="351.01" y1="192.35" x2="462.89" y2="122.28" stroke="#50d4e4" stroke-width="0.9"/>
<line x1="351.01" y1="192.35" x2="466.59" y2="125.57" stroke="#58a858" stroke-width="0.6"/>
<line x1="367.42" y1="128.62" x2="373.24" y2="228.50" stroke="#e04040" stroke-width="0.9"/>
<line x1="367.42" y1="128.62" x2="462.89" y2="122.28" stroke="#e04040" stroke-width="0.9"/>
<line x1="367.42" y1="128.62" x2="466.59" y2="125.57" stroke="#e04040" stroke-width="0.9"/>
<line x1="367.42" y1="128.62" x2="351.01" y2="192.35" stroke="#2828c0" stroke-width="1.0"/>
<line x1="360.11" y1="213.45" x2="476.52" y2="137.49" stroke="#d86868" stroke-width="0.85"/>
<line x1="360.11" y1="213.45" x2="410.07" y2="106.76" stroke="#2828c0" stroke-width="1.1"/>
<line x1="360.11" y1="213.45" x2="358.37" y2="140.90" stroke="#2828c0" stroke-width="1.0"/>
<line x1="400.72" y1="108.56" x2="373.24" y2="228.50" stroke="#2828c0" stroke-width="1.1"/>
<line x1="400.72" y1="108.56" x2="476.52" y2="137.49" stroke="#50d4e4" stroke-width="0.9"/>
<line x1="400.72" y1="108.56" x2="466.59" y2="125.57" stroke="#2828c0" stroke-width="1.0"/>
<line x1="400.72" y1="108.56" x2="351.28" y2="158.09" stroke="#2828c0" stroke-width="1.0"/>
<line x1="400.72" y1="108.56" x2="351.01" y2="192.35" stroke="#e04040" stroke-width="0.9"/>
<line x1="413.45" y1="245.07" x2="462.89" y2="122.28" stroke="#50d4e4" stroke-width="0.9"/>
<line x1="413.45" y1="245.07" x2="466.59" y2="125.57" stroke="#50d4e4" stroke-width="0.9"/>
<line x1="413.45" y1="245.07" x2="358.37" y2="140.90" stroke="#2828c0" stroke-width="1.1"/>
<line x1="413.45" y1="245.07" x2="351.01" y2="192.35" stroke="#50d4e4" stroke-width="0.9"/>
<line x1="413.45" y1="245.07" x2="367.42" y2="128.62" stroke="#2828c0" stroke-width="1.1"/>
<line x1="423.55" y1="106.43" x2="373.24" y2="228.50" stroke="#50d4e4" stroke-width="0.9"/>
<line x1="423.55" y1="106.43" x2="360.11" y2="213.45" stroke="#2828c0" stroke-width="1.1"/>
<line x1="423.55" y1="106.43" x2="413.45" y2="245.07" stroke="#d86868" stroke-width="0.85"/>
<line x1="349.00" y1="175.75" x2="476.52" y2="137.49" stroke="#58a858" stroke-width="0.6"/>
<line x1="406.01" y1="107.38" x2="390.62" y2="239.41" stroke="#50d4e4" stroke-width="0.9"/>
<line x1="406.01" y1="107.38" x2="351.01" y2="192.35" stroke="#e04040" stroke-width="0.9"/>
<line x1="406.01" y1="107.38" x2="360.11" y2="213.45" stroke="#2828c0" stroke-width="1.1"/>
<line x1="486.18" y1="159.96" x2="373.24" y2="228.50" stroke="#50d4e4" stroke-width="0.9"/>
<line x1="486.18" y1="159.96" x2="351.28" y2="158.09" stroke="#58a858" stroke-width="0.6"/>
<line x1="486.18" y1="159.96" x2="390.62" y2="239.41" stroke="#2828c0" stroke-width="1.1"/>
<line x1="486.18" y1="159.96" x2="351.01" y2="192.35" stroke="#d86868" stroke-width="0.85"/>
<line x1="486.18" y1="159.96" x2="367.42" y2="128.62" stroke="#2828c0" stroke-width="1.1"/>
<line x1="486.18" y1="159.96" x2="400.72" y2="108.56" stroke="#e04040" stroke-width="0.9"/>
<line x1="486.18" y1="159.96" x2="423.55" y2="106.43" stroke="#50d4e4" stroke-width="0.9"/>
<line x1="486.18" y1="159.96" x2="406.01" y2="107.38" stroke="#e04040" stroke-width="0.9"/>
<line x1="487.99" y1="176.88" x2="358.37" y2="140.90" stroke="#58a858" stroke-width="0.6"/>
<line x1="487.99" y1="176.88" x2="390.62" y2="239.41" stroke="#2828c0" stroke-width="1.1"/>
<line x1="487.99" y1="176.88" x2="413.45" y2="245.07" stroke="#e04040" stroke-width="0.9"/>
<line x1="487.99" y1="176.88" x2="423.55" y2="106.43" stroke="#e04040" stroke-width="0.9"/>
<line x1="487.99" y1="176.88" x2="349.00" y2="175.75" stroke="#d86868" stroke-width="0.85"/>
<line x1="388.96" y1="112.84" x2="373.24" y2="228.50" stroke="#2828c0" stroke-width="1.1"/>
<line x1="388.96" y1="112.84" x2="462.89" y2="122.28" stroke="#2828c0" stroke-width="1.0"/>
<line x1="388.96" y1="112.84" x2="413.45" y2="245.07" stroke="#58a858" stroke-width="0.6"/>
<line x1="388.96" y1="112.84" x2="487.99" y2="176.88" stroke="#2828c0" stroke-width="1.1"/>
<line x1="457.99" y1="232.94" x2="476.52" y2="137.49" stroke="#e04040" stroke-width="0.9"/>
<line x1="457.99" y1="232.94" x2="410.07" y2="106.76" stroke="#58a858" stroke-width="0.6"/>
<line x1="457.99" y1="232.94" x2="390.62" y2="239.41" stroke="#2828c0" stroke-width="1.0"/>
<line x1="457.99" y1="232.94" x2="360.11" y2="213.45" stroke="#e04040" stroke-width="0.9"/>
<line x1="457.99" y1="232.94" x2="349.00" y2="175.75" stroke="#2828c0" stroke-width="1.1"/>
<line x1="467.66" y1="126.62" x2="373.24" y2="228.50" stroke="#d86868" stroke-width="0.85"/>
<line x1="467.66" y1="126.62" x2="351.28" y2="158.09" stroke="#2828c0" stroke-width="1.1"/>
<line x1="467.66" y1="126.62" x2="351.01" y2="192.35" stroke="#58a858" stroke-width="0.6"/>
<line x1="467.66" y1="126.62" x2="367.42" y2="128.62" stroke="#e04040" stroke-width="0.9"/>
<line x1="467.66" y1="126.62" x2="400.72" y2="108.56" stroke="#2828c0" stroke-width="1.0"/>
<line x1="467.66" y1="126.62" x2="388.96" y2="112.84" stroke="#50d4e4" stroke-width="0.9"/>
<line x1="460.40" y1="231.20" x2="476.52" y2="137.49" stroke="#e04040" stroke-width="0.9"/>
<line x1="460.40" y1="231.20" x2="410.07" y2="106.76" stroke="#58a858" stroke-width="0.6"/>
<line x1="460.40" y1="231.20" x2="390.62" y2="239.41" stroke="#2828c0" stroke-width="1.0"/>
<line x1="460.40" y1="231.20" x2="351.01" y2="192.35" stroke="#2828c0" stroke-width="1.1"/>
<line x1="460.40" y1="231.20" x2="360.11" y2="213.45" stroke="#e04040" stroke-width="0.9"/>
<line x1="460.40" y1="231.20" x2="349.00" y2="175.75" stroke="#2828c0" stroke-width="1.1"/>
<line x1="456.37" y1="117.48" x2="358.37" y2="140.90" stroke="#e04040" stroke-width="0.9"/>
<line x1="456.37" y1="117.48" x2="413.45" y2="245.07" stroke="#58a858" stroke-width="0.6"/>
<line x1="456.37" y1="117.48" x2="349.00" y2="175.75" stroke="#2828c0" stroke-width="1.1"/>
<line x1="456.37" y1="117.48" x2="487.99" y2="176.88" stroke="#2828c0" stroke-width="1.0"/>
<line x1="456.37" y1="117.48" x2="388.96" y2="112.84" stroke="#2828c0" stroke-width="1.0"/>
<line x1="456.37" y1="117.48" x2="457.99" y2="232.94" stroke="#2828c0" stroke-width="1.1"/>
<line x1="412.38" y1="244.98" x2="462.89" y2="122.28" stroke="#50d4e4" stroke-width="0.9"/>
<line x1="412.38" y1="244.98" x2="476.52" y2="137.49" stroke="#2828c0" stroke-width="1.1"/>
<line x1="412.38" y1="244.98" x2="358.37" y2="140.90" stroke="#2828c0" stroke-width="1.1"/>
<line x1="412.38" y1="244.98" x2="351.01" y2="192.35" stroke="#50d4e4" stroke-width="0.9"/>
<line x1="412.38" y1="244.98" x2="423.55" y2="106.43" stroke="#d86868" stroke-width="0.85"/>
<line x1="412.38" y1="244.98" x2="349.00" y2="175.75" stroke="#e04040" stroke-width="0.9"/>
<line x1="412.38" y1="244.98" x2="487.99" y2="176.88" stroke="#e04040" stroke-width="0.9"/>
<line x1="412.38" y1="244.98" x2="388.96" y2="112.84" stroke="#58a858" stroke-width="0.6"/>
<line x1="412.38" y1="244.98" x2="456.37" y2="117.48" stroke="#58a858" stroke-width="0.6"/>
<line x1="476.02" y1="214.76" x2="358.37" y2="140.90" stroke="#d86868" stroke-width="0.85"/>
<line x1="476.02" y1="214.76" x2="360.11" y2="213.45" stroke="#2828c0" stroke-width="1.1"/>
<line x1="476.02" y1="214.76" x2="413.45" y2="245.07" stroke="#2828c0" stroke-width="1.0"/>
<line x1="476.02" y1="214.76" x2="423.55" y2="106.43" stroke="#2828c0" stroke-width="1.1"/>
<line x1="476.02" y1="214.76" x2="349.00" y2="175.75" stroke="#50d4e4" stroke-width="0.9"/>
<line x1="476.02" y1="214.76" x2="388.96" y2="112.84" stroke="#58a858" stroke-width="0.6"/>
<line x1="476.02" y1="214.76" x2="456.37" y2="117.48" stroke="#e04040" stroke-width="0.9"/>
<line x1="476.02" y1="214.76" x2="412.38" y2="244.98" stroke="#2828c0" stroke-width="1.0"/>
<line x1="445.38" y1="111.66" x2="390.62" y2="239.41" stroke="#d86868" stroke-width="0.85"/>
<line x1="445.38" y1="111.66" x2="351.01" y2="192.35" stroke="#2828c0" stroke-width="1.1"/>
<line x1="445.38" y1="111.66" x2="367.42" y2="128.62" stroke="#50d4e4" stroke-width="0.9"/>
<line x1="445.38" y1="111.66" x2="360.11" y2="213.45" stroke="#50d4e4" stroke-width="0.9"/>
<line x1="445.38" y1="111.66" x2="349.00" y2="175.75" stroke="#2828c0" stroke-width="1.1"/>
<line x1="445.38" y1="111.66" x2="457.99" y2="232.94" stroke="#2828c0" stroke-width="1.1"/>
<line x1="445.38" y1="111.66" x2="460.40" y2="231.20" stroke="#2828c0" stroke-width="1.1"/>
<line x1="488.00" y1="175.75" x2="358.37" y2="140.90" stroke="#58a858" stroke-width="0.6"/>
<line x1="488.00" y1="175.75" x2="390.62" y2="239.41" stroke="#2828c0" stroke-width="1.1"/>
<line x1="488.00" y1="175.75" x2="360.11" y2="213.45" stroke="#58a858" stroke-width="0.6"/>
<line x1="488.00" y1="175.75" x2="388.96" y2="112.84" stroke="#2828c0" stroke-width="1.1"/>
<line x1="488.00" y1="175.75" x2="456.37" y2="117.48" stroke="#2828c0" stroke-width="1.0"/>
<line x1="488.00" y1="175.75" x2="412.38" y2="244.98" stroke="#e04040" stroke-width="0.9"/>
<line x1="430.99" y1="244.12" x2="476.52" y2="137.49" stroke="#2828c0" stroke-width="1.1"/>
<line x1="430.99" y1="244.12" x2="410.07" y2="106.76" stroke="#d86868" stroke-width="0.85"/>
<line x1="430.99" y1="244.12" x2="466.59" y2="125.57" stroke="#2828c0" stroke-width="1.1"/>
<line x1="430.99" y1="244.12" x2="351.28" y2="158.09" stroke="#2828c0" stroke-width="1.1"/>
<line x1="430.99" y1="244.12" x2="351.01" y2="192.35" stroke="#e04040" stroke-width="0.9"/>
<line x1="430.99" y1="244.12" x2="367.42" y2="128.62" stroke="#50d4e4" stroke-width="0.9"/>
<line x1="430.99" y1="244.12" x2="400.72" y2="108.56" stroke="#d86868" stroke-width="0.85"/>
<line x1="430.99" y1="244.12" x2="486.18" y2="159.96" stroke="#e04040" stroke-width="0.9"/>
<line x1="430.99" y1="244.12" x2="467.66" y2="126.62" stroke="#2828c0" stroke-width="1.1"/>
<line x1="430.99" y1="244.12" x2="445.38" y2="111.66" stroke="#50d4e4" stroke-width="0.9"/>
<line x1="350.82" y1="191.54" x2="462.89" y2="122.28" stroke="#50d4e4" stroke-width="0.9"/>
<line x1="350.82" y1="191.54" x2="466.59" y2="125.57" stroke="#58a858" stroke-width="0.6"/>
<line x1="350.82" y1="191.54" x2="367.42" y2="128.62" stroke="#2828c0" stroke-width="1.0"/>
<line x1="350.82" y1="191.54" x2="400.72" y2="108.56" stroke="#e04040" stroke-width="0.9"/>
<line x1="350.82" y1="191.54" x2="413.45" y2="245.07" stroke="#50d4e4" stroke-width="0.9"/>
<line x1="350.82" y1="191.54" x2="406.01" y2="107.38" stroke="#e04040" stroke-width="0.9"/>
<line x1="350.82" y1="191.54" x2="467.66" y2="126.62" stroke="#58a858" stroke-width="0.6"/>
<line x1="350.82" y1="191.54" x2="460.40" y2="231.20" stroke="#2828c0" stroke-width="1.1"/>
<line x1="350.82" y1="191.54" x2="412.38" y2="244.98" stroke="#50d4e4" stroke-width="0.9"/>
<line x1="350.82" y1="191.54" x2="445.38" y2="111.66" stroke="#2828c0" stroke-width="1.1"/>
<line x1="350.82" y1="191.54" x2="430.99" y2="244.12" stroke="#e04040" stroke-width="0.9"/>
<line x1="354.50" y1="202.85" x2="462.89" y2="122.28" stroke="#58a858" stroke-width="0.6"/>
<line x1="354.50" y1="202.85" x2="413.45" y2="245.07" stroke="#2828c0" stroke-width="1.0"/>
<line x1="354.50" y1="202.85" x2="423.55" y2="106.43" stroke="#2828c0" stroke-width="1.1"/>
<line x1="354.50" y1="202.85" x2="388.96" y2="112.84" stroke="#e04040" stroke-width="0.9"/>
<line x1="354.50" y1="202.85" x2="456.37" y2="117.48" stroke="#50d4e4" stroke-width="0.9"/>
<line x1="354.50" y1="202.85" x2="412.38" y2="244.98" stroke="#2828c0" stroke-width="1.0"/>
<line x1="354.50" y1="202.85" x2="476.02" y2="214.76" stroke="#2828c0" stroke-width="1.1"/>
<line x1="488.00" y1="175.75" x2="349.00" y2="175.75" stroke="#d86868" stroke-width="0.85"/>
<line x1="430.99" y1="244.12" x2="406.01" y2="107.38" stroke="#d86868" stroke-width="0.85"/>
<circle cx="418.5" cy="175.75" r="5.5" fill="#fff"/>
<use href="#m_opp" transform="translate(418.07,175.39) scale(0.600)" style="color:#d02828"/>
<use href="#m_sex" transform="translate(443.29,122.13) scale(0.600)" style="color:#2020b8"/>
<use href="#m_opp" transform="translate(419.92,177.03) scale(0.600)" style="color:#d02828"/>
<use href="#m_sex" transform="translate(362.26,193.29) scale(0.600)" style="color:#2020b8"/>
<use href="#m_tri" transform="translate(407.09,140.18) scale(0.600)" style="color:#2020b8"/>
<use href="#m_tri" transform="translate(408.93,141.83) scale(0.600)" style="color:#2020b8"/>
<use href="#m_tri" transform="translate(417.45,139.19) scale(0.600)" style="color:#2020b8"/>
<use href="#m_qcx" transform="translate(433.57,188.45) scale(0.600)" style="color:#2a8a2a"/>
<use href="#m_qcx" transform="translate(400.34,173.09) scale(0.600)" style="color:#2a8a2a"/>
<use href="#m_bqu" transform="translate(406.95,157.31) scale(0.600)" style="color:#30d8e8"/>
<use href="#m_qcx" transform="translate(408.80,158.96) scale(0.600)" style="color:#2a8a2a"/>
<use href="#m_sqr" transform="translate(370.33,178.56) scale(0.600)" style="color:#c83030"/>
<use href="#m_sqr" transform="translate(415.16,125.45) scale(0.600)" style="color:#c83030"/>
<use href="#m_sqr" transform="translate(417.00,127.09) scale(0.600)" style="color:#c83030"/>
<use href="#m_sex" transform="translate(359.22,160.48) scale(0.600)" style="color:#2020b8"/>
<use href="#m_opp" transform="translate(418.32,175.47) scale(0.600)" style="color:#d02828"/>
<use href="#m_tri" transform="translate(385.09,160.11) scale(0.600)" style="color:#2020b8"/>
<use href="#m_sex" transform="translate(359.24,177.17) scale(0.600)" style="color:#2020b8"/>
<use href="#m_tri" transform="translate(386.98,168.53) scale(0.600)" style="color:#2020b8"/>
<use href="#m_qui" transform="translate(438.62,123.03) scale(0.600)" style="color:#30d8e8"/>
<use href="#m_sex" transform="translate(433.65,117.07) scale(0.600)" style="color:#2020b8"/>
<use href="#m_sex" transform="translate(376.00,133.33) scale(0.600)" style="color:#2020b8"/>
<use href="#m_sqr" transform="translate(375.87,150.46) scale(0.600)" style="color:#c83030"/>
<use href="#m_bqu" transform="translate(438.17,183.67) scale(0.600)" style="color:#30d8e8"/>
<use href="#m_bqu" transform="translate(440.02,185.32) scale(0.600)" style="color:#30d8e8"/>
<use href="#m_tri" transform="translate(385.91,192.98) scale(0.600)" style="color:#2020b8"/>
<use href="#m_qui" transform="translate(382.23,218.71) scale(0.600)" style="color:#30d8e8"/>
<use href="#m_tri" transform="translate(390.43,186.84) scale(0.600)" style="color:#2020b8"/>
<use href="#m_bqu" transform="translate(398.40,167.46) scale(0.600)" style="color:#30d8e8"/>
<use href="#m_tri" transform="translate(391.83,159.94) scale(0.600)" style="color:#2020b8"/>
<use href="#m_opp" transform="translate(418.50,175.75) scale(0.600)" style="color:#d02828"/>
<use href="#m_qcx" transform="translate(412.76,156.62) scale(0.600)" style="color:#2a8a2a"/>
<use href="#m_bqu" transform="translate(398.32,173.40) scale(0.600)" style="color:#30d8e8"/>
<use href="#m_sqr" transform="translate(378.51,149.87) scale(0.600)" style="color:#c83030"/>
<use href="#m_tri" transform="translate(383.06,160.42) scale(0.600)" style="color:#2020b8"/>
<use href="#m_bqu" transform="translate(429.71,194.23) scale(0.600)" style="color:#30d8e8"/>
<use href="#m_qcx" transform="translate(418.73,159.03) scale(0.600)" style="color:#2a8a2a"/>
<use href="#m_tri" transform="translate(438.40,199.69) scale(0.600)" style="color:#2020b8"/>
<use href="#m_opp" transform="translate(418.60,176.16) scale(0.600)" style="color:#d02828"/>
<use href="#m_tri" transform="translate(426.80,144.29) scale(0.600)" style="color:#2020b8"/>
<use href="#m_sqr" transform="translate(443.45,134.26) scale(0.600)" style="color:#c83030"/>
<use href="#m_qui" transform="translate(454.87,133.20) scale(0.600)" style="color:#30d8e8"/>
<use href="#m_sqr" transform="translate(446.10,133.67) scale(0.600)" style="color:#c83030"/>
<use href="#m_qcx" transform="translate(423.18,158.89) scale(0.600)" style="color:#2a8a2a"/>
<use href="#m_tri" transform="translate(439.31,208.15) scale(0.600)" style="color:#2020b8"/>
<use href="#m_sqr" transform="translate(450.72,210.97) scale(0.600)" style="color:#c83030"/>
<use href="#m_sqr" transform="translate(455.77,141.66) scale(0.600)" style="color:#c83030"/>
<use href="#m_opp" transform="translate(418.50,176.31) scale(0.600)" style="color:#d02828"/>
<use href="#m_tri" transform="translate(381.10,170.67) scale(0.600)" style="color:#2020b8"/>
<use href="#m_sex" transform="translate(425.93,117.56) scale(0.600)" style="color:#2020b8"/>
<use href="#m_qcx" transform="translate(401.20,178.95) scale(0.600)" style="color:#2a8a2a"/>
<use href="#m_tri" transform="translate(438.48,144.86) scale(0.600)" style="color:#2020b8"/>
<use href="#m_sqr" transform="translate(467.25,185.22) scale(0.600)" style="color:#c83030"/>
<use href="#m_qcx" transform="translate(434.03,169.85) scale(0.600)" style="color:#2a8a2a"/>
<use href="#m_sex" transform="translate(424.30,236.18) scale(0.600)" style="color:#2020b8"/>
<use href="#m_sqr" transform="translate(409.05,223.20) scale(0.600)" style="color:#c83030"/>
<use href="#m_tri" transform="translate(403.49,204.35) scale(0.600)" style="color:#2020b8"/>
<use href="#m_opp" transform="translate(420.45,177.56) scale(0.600)" style="color:#d02828"/>
<use href="#m_tri" transform="translate(409.47,142.36) scale(0.600)" style="color:#2020b8"/>
<use href="#m_qcx" transform="translate(409.34,159.49) scale(0.600)" style="color:#2a8a2a"/>
<use href="#m_sqr" transform="translate(417.54,127.62) scale(0.600)" style="color:#c83030"/>
<use href="#m_sex" transform="translate(434.19,117.59) scale(0.600)" style="color:#2020b8"/>
<use href="#m_qui" transform="translate(428.31,119.73) scale(0.600)" style="color:#30d8e8"/>
<use href="#m_sqr" transform="translate(468.46,184.34) scale(0.600)" style="color:#c83030"/>
<use href="#m_qcx" transform="translate(435.23,168.98) scale(0.600)" style="color:#2a8a2a"/>
<use href="#m_sex" transform="translate(425.51,235.30) scale(0.600)" style="color:#2020b8"/>
<use href="#m_tri" transform="translate(405.71,211.77) scale(0.600)" style="color:#2020b8"/>
<use href="#m_sqr" transform="translate(410.26,222.32) scale(0.600)" style="color:#c83030"/>
<use href="#m_tri" transform="translate(404.70,203.47) scale(0.600)" style="color:#2020b8"/>
<use href="#m_sqr" transform="translate(407.37,129.19) scale(0.600)" style="color:#c83030"/>
<use href="#m_qcx" transform="translate(434.91,181.27) scale(0.600)" style="color:#2a8a2a"/>
<use href="#m_tri" transform="translate(402.69,146.61) scale(0.600)" style="color:#2020b8"/>
<use href="#m_sex" transform="translate(472.18,147.18) scale(0.600)" style="color:#2020b8"/>
<use href="#m_sex" transform="translate(422.67,115.16) scale(0.600)" style="color:#2020b8"/>
<use href="#m_tri" transform="translate(457.18,175.21) scale(0.600)" style="color:#2020b8"/>
<use href="#m_bqu" transform="translate(437.64,183.63) scale(0.600)" style="color:#30d8e8"/>
<use href="#m_tri" transform="translate(444.45,191.24) scale(0.600)" style="color:#2020b8"/>
<use href="#m_tri" transform="translate(385.38,192.94) scale(0.600)" style="color:#2020b8"/>
<use href="#m_qui" transform="translate(381.70,218.67) scale(0.600)" style="color:#30d8e8"/>
<use href="#m_opp" transform="translate(417.97,175.71) scale(0.600)" style="color:#d02828"/>
<use href="#m_sqr" transform="translate(380.69,210.37) scale(0.600)" style="color:#c83030"/>
<use href="#m_sqr" transform="translate(450.19,210.93) scale(0.600)" style="color:#c83030"/>
<use href="#m_qcx" transform="translate(400.67,178.91) scale(0.600)" style="color:#2a8a2a"/>
<use href="#m_qcx" transform="translate(434.38,181.23) scale(0.600)" style="color:#2a8a2a"/>
<use href="#m_opp" transform="translate(417.19,177.83) scale(0.600)" style="color:#d02828"/>
<use href="#m_tri" transform="translate(418.06,214.11) scale(0.600)" style="color:#2020b8"/>
<use href="#m_sex" transform="translate(444.73,229.92) scale(0.600)" style="color:#2020b8"/>
<use href="#m_tri" transform="translate(449.78,160.60) scale(0.600)" style="color:#2020b8"/>
<use href="#m_bqu" transform="translate(412.51,195.26) scale(0.600)" style="color:#30d8e8"/>
<use href="#m_qcx" transform="translate(432.49,163.80) scale(0.600)" style="color:#2a8a2a"/>
<use href="#m_sqr" transform="translate(466.19,166.12) scale(0.600)" style="color:#c83030"/>
<use href="#m_sex" transform="translate(444.20,229.87) scale(0.600)" style="color:#2020b8"/>
<use href="#m_opp" transform="translate(418.00,175.53) scale(0.600)" style="color:#d02828"/>
<use href="#m_tri" transform="translate(398.19,152.00) scale(0.600)" style="color:#2020b8"/>
<use href="#m_qui" transform="translate(406.40,120.14) scale(0.600)" style="color:#30d8e8"/>
<use href="#m_bqu" transform="translate(402.74,162.55) scale(0.600)" style="color:#30d8e8"/>
<use href="#m_tri" transform="translate(397.19,143.70) scale(0.600)" style="color:#2020b8"/>
<use href="#m_tri" transform="translate(451.68,172.30) scale(0.600)" style="color:#2020b8"/>
<use href="#m_tri" transform="translate(452.89,171.43) scale(0.600)" style="color:#2020b8"/>
<use href="#m_qcx" transform="translate(423.19,158.32) scale(0.600)" style="color:#2a8a2a"/>
<use href="#m_tri" transform="translate(439.31,207.58) scale(0.600)" style="color:#2020b8"/>
<use href="#m_qcx" transform="translate(424.06,194.60) scale(0.600)" style="color:#2a8a2a"/>
<use href="#m_tri" transform="translate(438.48,144.29) scale(0.600)" style="color:#2020b8"/>
<use href="#m_sex" transform="translate(472.19,146.61) scale(0.600)" style="color:#2020b8"/>
<use href="#m_sqr" transform="translate(450.19,210.37) scale(0.600)" style="color:#c83030"/>
<use href="#m_tri" transform="translate(453.75,190.81) scale(0.600)" style="color:#2020b8"/>
<use href="#m_opp" transform="translate(420.53,175.44) scale(0.600)" style="color:#d02828"/>
<use href="#m_tri" transform="translate(448.79,184.85) scale(0.600)" style="color:#2020b8"/>
<use href="#m_tri" transform="translate(391.13,201.10) scale(0.600)" style="color:#2020b8"/>
<use href="#m_sqr" transform="translate(391.00,218.24) scale(0.600)" style="color:#c83030"/>
<use href="#m_bqu" transform="translate(399.20,186.37) scale(0.600)" style="color:#30d8e8"/>
<use href="#m_opp" transform="translate(415.85,176.34) scale(0.600)" style="color:#d02828"/>
<use href="#m_sqr" transform="translate(458.58,202.04) scale(0.600)" style="color:#c83030"/>
<use href="#m_tri" transform="translate(449.32,185.37) scale(0.600)" style="color:#2020b8"/>
<use href="#m_bqu" transform="translate(438.18,177.89) scale(0.600)" style="color:#30d8e8"/>
<use href="#m_bqu" transform="translate(406.86,156.91) scale(0.600)" style="color:#30d8e8"/>
<use href="#m_qcx" transform="translate(408.70,158.55) scale(0.600)" style="color:#2a8a2a"/>
<use href="#m_sex" transform="translate(359.12,160.08) scale(0.600)" style="color:#2020b8"/>
<use href="#m_sqr" transform="translate(375.77,150.05) scale(0.600)" style="color:#c83030"/>
<use href="#m_qui" transform="translate(382.13,218.30) scale(0.600)" style="color:#30d8e8"/>
<use href="#m_sqr" transform="translate(378.42,149.46) scale(0.600)" style="color:#c83030"/>
<use href="#m_qcx" transform="translate(409.24,159.08) scale(0.600)" style="color:#2a8a2a"/>
<use href="#m_tri" transform="translate(405.61,211.37) scale(0.600)" style="color:#2020b8"/>
<use href="#m_qui" transform="translate(381.60,218.26) scale(0.600)" style="color:#30d8e8"/>
<use href="#m_tri" transform="translate(398.10,151.60) scale(0.600)" style="color:#2020b8"/>
<use href="#m_sqr" transform="translate(390.90,217.83) scale(0.600)" style="color:#c83030"/>
<use href="#m_qcx" transform="translate(408.70,162.56) scale(0.600)" style="color:#2a8a2a"/>
<use href="#m_sex" transform="translate(383.97,223.96) scale(0.600)" style="color:#2020b8"/>
<use href="#m_tri" transform="translate(389.03,154.64) scale(0.600)" style="color:#2020b8"/>
<use href="#m_sqr" transform="translate(371.73,157.84) scale(0.600)" style="color:#c83030"/>
<use href="#m_bqu" transform="translate(405.44,160.16) scale(0.600)" style="color:#30d8e8"/>
<use href="#m_sex" transform="translate(383.44,223.92) scale(0.600)" style="color:#2020b8"/>
<use href="#m_tri" transform="translate(415.26,208.81) scale(0.600)" style="color:#2020b8"/>
<use href="#m_opp" transform="translate(418.50,175.75) scale(0.600)" style="color:#d02828"/>
<use href="#m_opp" transform="translate(418.50,175.75) scale(0.600)" style="color:#d02828"/>
<rect x="739.5" y="6.5" width="274" height="148" fill="#fff" stroke="#555" stroke-width="1"/>
<rect x="740.5" y="7.5" width="272" height="146" fill="none" stroke="#b8b8b8" stroke-width="1"/>
<rect x="741.5" y="8.5" width="270" height="144" fill="none" stroke="#222" stroke-width="1"/>
<line x1="741" y1="21.5" x2="1012" y2="21.5" stroke="#222" stroke-width="1"/>
<line x1="741" y1="36.5" x2="1012" y2="36.5" stroke="#222" stroke-width="1"/>
<line x1="741" y1="138.5" x2="1012" y2="138.5" stroke="#222" stroke-width="1"/>
<line x1="806.5" y1="21.5" x2="806.5" y2="138.5" stroke="#222" stroke-width="1"/>
<line x1="808.5" y1="21.5" x2="808.5" y2="138.5" stroke="#222" stroke-width="1"/>
<line x1="844.5" y1="21.5" x2="844.5" y2="138.5" stroke="#222" stroke-width="1"/>
<line x1="879.5" y1="21.5" x2="879.5" y2="138.5" stroke="#222" stroke-width="1"/>
<line x1="914.5" y1="21.5" x2="914.5" y2="138.5" stroke="#222" stroke-width="1"/>
<text x="875.00" y="19.10" font-size="10.85" text-anchor="middle" fill="#000" textLength="80.60" lengthAdjust="spacingAndGlyphs">PLANETARY SECT</text>
<text x="775.50" y="33.60" font-size="10.62" text-anchor="middle" fill="#000" textLength="27.00" lengthAdjust="spacingAndGlyphs">Planet</text>
<text x="826.40" y="33.60" font-size="10.62" text-anchor="middle" fill="#000" textLength="13.00" lengthAdjust="spacingAndGlyphs">Cht</text>
<text x="861.00" y="33.60" font-size="10.62" text-anchor="middle" fill="#000" textLength="13.00" lengthAdjust="spacingAndGlyphs">Plc</text>
<text x="896.50" y="33.60" font-size="10.62" text-anchor="middle" fill="#000" textLength="15.00" lengthAdjust="spacingAndGlyphs">Sgn</text>
<text x="962.50" y="33.60" font-size="10.62" text-anchor="middle" fill="#000" textLength="37.50" lengthAdjust="spacingAndGlyphs">Condition</text>
<use href="#b_sun" transform="translate(766.40,45.00) scale(0.860)" style="color:#b4b422"/>
<text x="780.80" y="49.00" font-size="10.62" text-anchor="middle" fill="#111" textLength="6.79" lengthAdjust="spacingAndGlyphs">D</text>
<text x="826.40" y="49.00" font-size="10.62" text-anchor="middle" fill="#3434a0" textLength="6.79" lengthAdjust="spacingAndGlyphs">D</text>
<text x="861.00" y="49.00" font-size="10.62" text-anchor="middle" fill="#3434a0" textLength="6.79" lengthAdjust="spacingAndGlyphs">D</text>
<text x="896.50" y="49.00" font-size="10.62" text-anchor="middle" fill="#3434a0" textLength="6.79" lengthAdjust="spacingAndGlyphs">D</text>
<text x="962.50" y="49.00" font-size="10.62" text-anchor="middle" fill="#3434a0" textLength="31.00" lengthAdjust="spacingAndGlyphs">In Hayz</text>
<use href="#b_moon" transform="translate(766.40,59.43) scale(0.860)" style="color:#c4c430"/>
<text x="780.80" y="63.43" font-size="10.62" text-anchor="middle" fill="#111" textLength="6.79" lengthAdjust="spacingAndGlyphs">N</text>
<text x="826.40" y="63.43" font-size="10.62" text-anchor="middle" fill="#c03838" textLength="6.79" lengthAdjust="spacingAndGlyphs">D</text>
<text x="861.00" y="63.43" font-size="10.62" text-anchor="middle" fill="#3434a0" textLength="6.79" lengthAdjust="spacingAndGlyphs">N</text>
<text x="896.50" y="63.43" font-size="10.62" text-anchor="middle" fill="#c03838" textLength="6.79" lengthAdjust="spacingAndGlyphs">D</text>
<use href="#b_mercury" transform="translate(766.40,73.86) scale(0.860)" style="color:#a030b0"/>
<text x="780.80" y="77.86" font-size="10.62" text-anchor="middle" fill="#111" textLength="6.79" lengthAdjust="spacingAndGlyphs">D</text>
<text x="826.40" y="77.86" font-size="10.62" text-anchor="middle" fill="#3434a0" textLength="6.79" lengthAdjust="spacingAndGlyphs">D</text>
<text x="861.00" y="77.86" font-size="10.62" text-anchor="middle" fill="#3434a0" textLength="6.79" lengthAdjust="spacingAndGlyphs">D</text>
<text x="896.50" y="77.86" font-size="10.62" text-anchor="middle" fill="#3434a0" textLength="6.79" lengthAdjust="spacingAndGlyphs">D</text>
<text x="962.50" y="77.86" font-size="10.62" text-anchor="middle" fill="#3434a0" textLength="31.00" lengthAdjust="spacingAndGlyphs">In Hayz</text>
<use href="#b_venus" transform="translate(766.40,88.29) scale(0.860)" style="color:#1ca0b0"/>
<text x="780.80" y="92.29" font-size="10.62" text-anchor="middle" fill="#111" textLength="6.79" lengthAdjust="spacingAndGlyphs">N</text>
<text x="826.40" y="92.29" font-size="10.62" text-anchor="middle" fill="#c03838" textLength="6.79" lengthAdjust="spacingAndGlyphs">D</text>
<text x="861.00" y="92.29" font-size="10.62" text-anchor="middle" fill="#c03838" textLength="6.79" lengthAdjust="spacingAndGlyphs">D</text>
<text x="896.50" y="92.29" font-size="10.62" text-anchor="middle" fill="#c03838" textLength="6.79" lengthAdjust="spacingAndGlyphs">D</text>
<text x="962.50" y="92.29" font-size="10.62" text-anchor="middle" fill="#c03838" textLength="31.00" lengthAdjust="spacingAndGlyphs">Ex Cond</text>
<use href="#b_mars" transform="translate(766.40,102.72) scale(0.860)" style="color:#e02828"/>
<text x="780.80" y="106.72" font-size="10.62" text-anchor="middle" fill="#111" textLength="6.79" lengthAdjust="spacingAndGlyphs">N</text>
<text x="826.40" y="106.72" font-size="10.62" text-anchor="middle" fill="#c03838" textLength="6.79" lengthAdjust="spacingAndGlyphs">D</text>
<text x="861.00" y="106.72" font-size="10.62" text-anchor="middle" fill="#c03838" textLength="6.79" lengthAdjust="spacingAndGlyphs">D</text>
<text x="896.50" y="106.72" font-size="10.62" text-anchor="middle" fill="#c03838" textLength="6.79" lengthAdjust="spacingAndGlyphs">D</text>
<text x="962.50" y="106.72" font-size="10.62" text-anchor="middle" fill="#c03838" textLength="31.00" lengthAdjust="spacingAndGlyphs">Ex Cond</text>
<use href="#b_jupiter" transform="translate(766.40,117.15) scale(0.860)" style="color:#9c9c9c"/>
<text x="780.80" y="121.15" font-size="10.62" text-anchor="middle" fill="#111" textLength="6.79" lengthAdjust="spacingAndGlyphs">D</text>
<text x="826.40" y="121.15" font-size="10.62" text-anchor="middle" fill="#3434a0" textLength="6.79" lengthAdjust="spacingAndGlyphs">D</text>
<text x="861.00" y="121.15" font-size="10.62" text-anchor="middle" fill="#3434a0" textLength="6.79" lengthAdjust="spacingAndGlyphs">D</text>
<text x="896.50" y="121.15" font-size="10.62" text-anchor="middle" fill="#3434a0" textLength="6.79" lengthAdjust="spacingAndGlyphs">D</text>
<text x="962.50" y="121.15" font-size="10.62" text-anchor="middle" fill="#3434a0" textLength="31.00" lengthAdjust="spacingAndGlyphs">In Hayz</text>
<use href="#b_saturn" transform="translate(766.40,131.58) scale(0.860)" style="color:#901818"/>
<text x="780.80" y="135.58" font-size="10.62" text-anchor="middle" fill="#111" textLength="6.79" lengthAdjust="spacingAndGlyphs">D</text>
<text x="826.40" y="135.58" font-size="10.62" text-anchor="middle" fill="#3434a0" textLength="6.79" lengthAdjust="spacingAndGlyphs">D</text>
<text x="861.00" y="135.58" font-size="10.62" text-anchor="middle" fill="#3434a0" textLength="6.79" lengthAdjust="spacingAndGlyphs">D</text>
<text x="896.50" y="135.58" font-size="10.62" text-anchor="middle" fill="#3434a0" textLength="6.79" lengthAdjust="spacingAndGlyphs">D</text>
<text x="962.50" y="135.58" font-size="10.62" text-anchor="middle" fill="#3434a0" textLength="31.00" lengthAdjust="spacingAndGlyphs">In Hayz</text>
<text x="876.00" y="149.90" font-size="10.62" text-anchor="middle" fill="#000" textLength="98.00" lengthAdjust="spacingAndGlyphs">D=Diurnal, N=Nocturnal</text>
<rect x="721.5" y="165.5" width="292" height="149" fill="#fff" stroke="#555" stroke-width="1"/>
<rect x="722.5" y="166.5" width="290" height="147" fill="none" stroke="#b8b8b8" stroke-width="1"/>
<rect x="723.5" y="167.5" width="288" height="145" fill="none" stroke="#222" stroke-width="1"/>
<line x1="723" y1="181.5" x2="1012" y2="181.5" stroke="#222" stroke-width="1"/>
<line x1="723" y1="196.5" x2="1012" y2="196.5" stroke="#222" stroke-width="1"/>
<line x1="723" y1="225.5" x2="1012" y2="225.5" stroke="#222" stroke-width="1"/>
<line x1="723" y1="239.5" x2="1012" y2="239.5" stroke="#222" stroke-width="1"/>
<line x1="723" y1="268.5" x2="1012" y2="268.5" stroke="#222" stroke-width="1"/>
<line x1="723" y1="283.5" x2="1012" y2="283.5" stroke="#222" stroke-width="1"/>
<line x1="784.5" y1="196.5" x2="784.5" y2="225.5" stroke="#222" stroke-width="1"/>
<line x1="786.5" y1="196.5" x2="786.5" y2="225.5" stroke="#222" stroke-width="1"/>
<line x1="818.5" y1="196.5" x2="818.5" y2="225.5" stroke="#222" stroke-width="1"/>
<line x1="851.5" y1="196.5" x2="851.5" y2="225.5" stroke="#222" stroke-width="1"/>
<line x1="884" y1="196.5" x2="884" y2="225.5" stroke="#222" stroke-width="1"/>
<line x1="916.5" y1="196.5" x2="916.5" y2="225.5" stroke="#222" stroke-width="1"/>
<line x1="948.5" y1="196.5" x2="948.5" y2="225.5" stroke="#222" stroke-width="1"/>
<line x1="981" y1="196.5" x2="981" y2="225.5" stroke="#222" stroke-width="1"/>
<line x1="784.5" y1="239.5" x2="784.5" y2="268.5" stroke="#222" stroke-width="1"/>
<line x1="786.5" y1="239.5" x2="786.5" y2="268.5" stroke="#222" stroke-width="1"/>
<line x1="818.5" y1="239.5" x2="818.5" y2="268.5" stroke="#222" stroke-width="1"/>
<line x1="851.5" y1="239.5" x2="851.5" y2="268.5" stroke="#222" stroke-width="1"/>
<line x1="884" y1="239.5" x2="884" y2="268.5" stroke="#222" stroke-width="1"/>
<line x1="916.5" y1="239.5" x2="916.5" y2="268.5" stroke="#222" stroke-width="1"/>
<line x1="948.5" y1="239.5" x2="948.5" y2="268.5" stroke="#222" stroke-width="1"/>
<line x1="981" y1="239.5" x2="981" y2="268.5" stroke="#222" stroke-width="1"/>
<line x1="784.5" y1="283.5" x2="784.5" y2="312.5" stroke="#222" stroke-width="1"/>
<line x1="786.5" y1="283.5" x2="786.5" y2="312.5" stroke="#222" stroke-width="1"/>
<line x1="818.5" y1="283.5" x2="818.5" y2="312.5" stroke="#222" stroke-width="1"/>
<line x1="851.5" y1="283.5" x2="851.5" y2="312.5" stroke="#222" stroke-width="1"/>
<line x1="884" y1="283.5" x2="884" y2="312.5" stroke="#222" stroke-width="1"/>
<line x1="916.5" y1="283.5" x2="916.5" y2="312.5" stroke="#222" stroke-width="1"/>
<line x1="948.5" y1="283.5" x2="948.5" y2="312.5" stroke="#222" stroke-width="1"/>
<line x1="981" y1="283.5" x2="981" y2="312.5" stroke="#222" stroke-width="1"/>
<text x="867.00" y="179.10" font-size="10.85" text-anchor="middle" fill="#000" textLength="127.00" lengthAdjust="spacingAndGlyphs">DIGNITY/ALMUTEN SCORES</text>
<text x="867.00" y="193.60" font-size="10.62" text-anchor="middle" fill="#000" textLength="109.00" lengthAdjust="spacingAndGlyphs">Almuten of Chart (Ibn Ezra)</text>
<text x="867.00" y="237.40" font-size="10.62" text-anchor="middle" fill="#000" textLength="113.00" lengthAdjust="spacingAndGlyphs">Essential Dignities (Ptolemy)</text>
<text x="867.00" y="280.80" font-size="10.62" text-anchor="middle" fill="#000" textLength="144.00" lengthAdjust="spacingAndGlyphs">Ess. Dignities (Dorothean/Egyptian)</text>
<text x="726.00" y="208.50" font-size="10.62" text-anchor="start" fill="#000" textLength="27.00" lengthAdjust="spacingAndGlyphs">Planet</text>
<text x="726.00" y="222.90" font-size="10.62" text-anchor="start" fill="#000" textLength="24.50" lengthAdjust="spacingAndGlyphs">Score</text>
<use href="#b_mercury" transform="translate(802.50,204.50) scale(0.860)" style="color:#a030b0"/>
<text x="802.50" y="222.90" font-size="10.62" text-anchor="middle" fill="#111" textLength="10.45" lengthAdjust="spacingAndGlyphs">38</text>
<use href="#b_venus" transform="translate(835.00,204.50) scale(0.860)" style="color:#1ca0b0"/>
<text x="835.00" y="222.90" font-size="10.62" text-anchor="middle" fill="#111" textLength="10.45" lengthAdjust="spacingAndGlyphs">35</text>
<use href="#b_saturn" transform="translate(867.70,204.50) scale(0.860)" style="color:#901818"/>
<text x="867.70" y="222.90" font-size="10.62" text-anchor="middle" fill="#111" textLength="10.45" lengthAdjust="spacingAndGlyphs">27</text>
<use href="#b_neptune" transform="translate(900.20,204.50) scale(0.860)" style="color:#1ca0b0"/>
<text x="900.20" y="222.90" font-size="10.62" text-anchor="middle" fill="#111" textLength="10.45" lengthAdjust="spacingAndGlyphs">18</text>
<use href="#b_mars" transform="translate(932.50,204.50) scale(0.860)" style="color:#e02828"/>
<text x="932.50" y="222.90" font-size="10.62" text-anchor="middle" fill="#111" textLength="10.45" lengthAdjust="spacingAndGlyphs">15</text>
<use href="#b_jupiter" transform="translate(964.80,204.50) scale(0.860)" style="color:#9c9c9c"/>
<text x="964.80" y="222.90" font-size="10.62" text-anchor="middle" fill="#111" textLength="10.45" lengthAdjust="spacingAndGlyphs">12</text>
<use href="#b_moon" transform="translate(997.00,204.50) scale(0.860)" style="color:#c4c430"/>
<text x="997.00" y="222.90" font-size="10.62" text-anchor="middle" fill="#111" textLength="10.45" lengthAdjust="spacingAndGlyphs">12</text>
<text x="726.00" y="252.00" font-size="10.62" text-anchor="start" fill="#000" textLength="27.00" lengthAdjust="spacingAndGlyphs">Planet</text>
<text x="726.00" y="266.00" font-size="10.62" text-anchor="start" fill="#000" textLength="24.50" lengthAdjust="spacingAndGlyphs">Score</text>
<use href="#b_neptune" transform="translate(802.50,248.00) scale(0.860)" style="color:#1ca0b0"/>
<text x="802.50" y="266.00" font-size="10.62" text-anchor="middle" fill="#111" textLength="5.23" lengthAdjust="spacingAndGlyphs">5</text>
<use href="#b_saturn" transform="translate(835.00,248.00) scale(0.860)" style="color:#901818"/>
<text x="835.00" y="266.00" font-size="10.62" text-anchor="middle" fill="#111" textLength="5.23" lengthAdjust="spacingAndGlyphs">3</text>
<use href="#b_mercury" transform="translate(867.70,248.00) scale(0.860)" style="color:#a030b0"/>
<text x="867.70" y="266.00" font-size="10.62" text-anchor="middle" fill="#111" textLength="5.23" lengthAdjust="spacingAndGlyphs">3</text>
<use href="#b_jupiter" transform="translate(900.20,248.00) scale(0.860)" style="color:#9c9c9c"/>
<text x="900.20" y="266.00" font-size="10.62" text-anchor="middle" fill="#111" textLength="5.23" lengthAdjust="spacingAndGlyphs">2</text>
<use href="#b_venus" transform="translate(932.50,248.00) scale(0.860)" style="color:#1ca0b0"/>
<text x="932.50" y="266.00" font-size="10.62" text-anchor="middle" fill="#111" textLength="5.23" lengthAdjust="spacingAndGlyphs">2</text>
<use href="#b_uranus" transform="translate(964.80,248.00) scale(0.860)" style="color:#2424c0"/>
<text x="964.80" y="266.00" font-size="10.62" text-anchor="middle" fill="#111" textLength="8.36" lengthAdjust="spacingAndGlyphs">-3</text>
<use href="#b_pluto" transform="translate(997.00,248.00) scale(0.860)" style="color:#901818"/>
<text x="997.00" y="266.00" font-size="10.62" text-anchor="middle" fill="#111" textLength="8.36" lengthAdjust="spacingAndGlyphs">-5</text>
<text x="726.00" y="295.20" font-size="10.62" text-anchor="start" fill="#000" textLength="27.00" lengthAdjust="spacingAndGlyphs">Planet</text>
<text x="726.00" y="309.70" font-size="10.62" text-anchor="start" fill="#000" textLength="24.50" lengthAdjust="spacingAndGlyphs">Score</text>
<use href="#b_neptune" transform="translate(802.50,291.20) scale(0.860)" style="color:#1ca0b0"/>
<text x="802.50" y="309.70" font-size="10.62" text-anchor="middle" fill="#111" textLength="5.23" lengthAdjust="spacingAndGlyphs">5</text>
<use href="#b_saturn" transform="translate(835.00,291.20) scale(0.860)" style="color:#901818"/>
<text x="835.00" y="309.70" font-size="10.62" text-anchor="middle" fill="#111" textLength="5.23" lengthAdjust="spacingAndGlyphs">3</text>
<use href="#b_mercury" transform="translate(867.70,291.20) scale(0.860)" style="color:#a030b0"/>
<text x="867.70" y="309.70" font-size="10.62" text-anchor="middle" fill="#111" textLength="5.23" lengthAdjust="spacingAndGlyphs">3</text>
<use href="#b_venus" transform="translate(900.20,291.20) scale(0.860)" style="color:#1ca0b0"/>
<text x="900.20" y="309.70" font-size="10.62" text-anchor="middle" fill="#111" textLength="5.23" lengthAdjust="spacingAndGlyphs">2</text>
<use href="#b_uranus" transform="translate(932.50,291.20) scale(0.860)" style="color:#2424c0"/>
<text x="932.50" y="309.70" font-size="10.62" text-anchor="middle" fill="#111" textLength="8.36" lengthAdjust="spacingAndGlyphs">-3</text>
<use href="#b_pluto" transform="translate(964.80,291.20) scale(0.860)" style="color:#901818"/>
<text x="964.80" y="309.70" font-size="10.62" text-anchor="middle" fill="#111" textLength="8.36" lengthAdjust="spacingAndGlyphs">-5</text>
<use href="#b_jupiter" transform="translate(997.00,291.20) scale(0.860)" style="color:#9c9c9c"/>
<text x="997.00" y="309.70" font-size="10.62" text-anchor="middle" fill="#111" textLength="8.36" lengthAdjust="spacingAndGlyphs">-5</text>
<rect x="343.5" y="354.5" width="193" height="104" fill="#fff" stroke="#555" stroke-width="1"/>
<rect x="344.5" y="355.5" width="191" height="102" fill="none" stroke="#b8b8b8" stroke-width="1"/>
<rect x="345.5" y="356.5" width="189" height="100" fill="none" stroke="#222" stroke-width="1"/>
<line x1="345" y1="369.5" x2="535" y2="369.5" stroke="#222" stroke-width="1"/>
<line x1="388.5" y1="356" x2="388.5" y2="457" stroke="#222" stroke-width="1"/>
<line x1="482.5" y1="356" x2="482.5" y2="457" stroke="#222" stroke-width="1"/>
<rect x="438.5" y="356" width="2.5" height="101" fill="#555"/>
<text x="366.50" y="367.60" font-size="10.62" text-anchor="middle" fill="#000" textLength="11.00" lengthAdjust="spacingAndGlyphs">Hs</text>
<text x="413.50" y="367.60" font-size="10.62" text-anchor="middle" fill="#000" textLength="17.00" lengthAdjust="spacingAndGlyphs">Alm.</text>
<text x="461.00" y="367.60" font-size="10.62" text-anchor="middle" fill="#000" textLength="11.00" lengthAdjust="spacingAndGlyphs">Hs</text>
<text x="508.50" y="367.60" font-size="10.62" text-anchor="middle" fill="#000" textLength="17.00" lengthAdjust="spacingAndGlyphs">Alm.</text>
<text x="366.50" y="381.90" font-size="10.62" text-anchor="middle" fill="#111" textLength="5.23" lengthAdjust="spacingAndGlyphs">1</text>
<use href="#g_venus" transform="translate(408.00,377.90) scale(0.880)" style="color:#1ca0b0"/>
<use href="#g_neptune" transform="translate(419.00,377.90) scale(0.880)" style="color:#1ca0b0"/>
<text x="366.50" y="396.40" font-size="10.62" text-anchor="middle" fill="#111" textLength="5.23" lengthAdjust="spacingAndGlyphs">2</text>
<use href="#g_sun" transform="translate(408.00,392.40) scale(0.880)" style="color:#b4b422"/>
<use href="#g_mars" transform="translate(419.00,392.40) scale(0.880)" style="color:#e02828"/>
<text x="366.50" y="410.90" font-size="10.62" text-anchor="middle" fill="#111" textLength="5.23" lengthAdjust="spacingAndGlyphs">3</text>
<use href="#g_venus" transform="translate(413.50,406.90) scale(0.880)" style="color:#1ca0b0"/>
<text x="366.50" y="425.40" font-size="10.62" text-anchor="middle" fill="#111" textLength="5.23" lengthAdjust="spacingAndGlyphs">4</text>
<use href="#g_mercury" transform="translate(413.50,421.40) scale(0.880)" style="color:#a030b0"/>
<text x="366.50" y="439.90" font-size="10.62" text-anchor="middle" fill="#111" textLength="5.23" lengthAdjust="spacingAndGlyphs">5</text>
<use href="#g_moon" transform="translate(408.00,435.90) scale(0.880)" style="color:#c4c430"/>
<use href="#g_jupiter" transform="translate(419.00,435.90) scale(0.880)" style="color:#9c9c9c"/>
<text x="366.50" y="454.40" font-size="10.62" text-anchor="middle" fill="#111" textLength="5.23" lengthAdjust="spacingAndGlyphs">6</text>
<use href="#g_sun" transform="translate(413.50,450.40) scale(0.880)" style="color:#b4b422"/>
<text x="461.00" y="381.90" font-size="10.62" text-anchor="middle" fill="#111" textLength="5.23" lengthAdjust="spacingAndGlyphs">7</text>
<use href="#g_mercury" transform="translate(508.50,377.90) scale(0.880)" style="color:#a030b0"/>
<text x="461.00" y="396.40" font-size="10.62" text-anchor="middle" fill="#111" textLength="5.23" lengthAdjust="spacingAndGlyphs">8</text>
<use href="#g_saturn" transform="translate(508.50,392.40) scale(0.880)" style="color:#901818"/>
<text x="461.00" y="410.90" font-size="10.62" text-anchor="middle" fill="#111" textLength="5.23" lengthAdjust="spacingAndGlyphs">9</text>
<use href="#g_pluto" transform="translate(508.50,406.90) scale(0.880)" style="color:#901818"/>
<text x="461.00" y="425.40" font-size="10.62" text-anchor="middle" fill="#111" textLength="10.45" lengthAdjust="spacingAndGlyphs">10</text>
<use href="#g_jupiter" transform="translate(508.50,421.40) scale(0.880)" style="color:#9c9c9c"/>
<text x="461.00" y="439.90" font-size="10.62" text-anchor="middle" fill="#111" textLength="9.76" lengthAdjust="spacingAndGlyphs">11</text>
<use href="#g_saturn" transform="translate(508.50,435.90) scale(0.880)" style="color:#901818"/>
<text x="461.00" y="454.40" font-size="10.62" text-anchor="middle" fill="#111" textLength="10.45" lengthAdjust="spacingAndGlyphs">12</text>
<use href="#g_uranus" transform="translate(508.50,450.40) scale(0.880)" style="color:#2424c0"/>
<rect x="550.5" y="354.5" width="463" height="206" fill="#fff" stroke="#555" stroke-width="1"/>
<rect x="551.5" y="355.5" width="461" height="204" fill="none" stroke="#b8b8b8" stroke-width="1"/>
<rect x="552.5" y="356.5" width="459" height="202" fill="none" stroke="#222" stroke-width="1"/>
<line x1="552" y1="370.5" x2="1012" y2="370.5" stroke="#222" stroke-width="1"/>
<line x1="552" y1="384.5" x2="1012" y2="384.5" stroke="#222" stroke-width="1"/>
<line x1="588.5" y1="370.5" x2="588.5" y2="559" stroke="#222" stroke-width="1"/>
<line x1="641.8" y1="370.5" x2="641.8" y2="559" stroke="#222" stroke-width="1"/>
<line x1="693.3" y1="370.5" x2="693.3" y2="559" stroke="#222" stroke-width="1"/>
<line x1="745.2" y1="370.5" x2="745.2" y2="559" stroke="#222" stroke-width="1"/>
<line x1="797.6" y1="370.5" x2="797.6" y2="559" stroke="#222" stroke-width="1"/>
<line x1="849.1" y1="370.5" x2="849.1" y2="559" stroke="#222" stroke-width="1"/>
<line x1="901.4" y1="370.5" x2="901.4" y2="559" stroke="#222" stroke-width="1"/>
<line x1="952.3" y1="370.5" x2="952.3" y2="559" stroke="#222" stroke-width="1"/>
<text x="782.00" y="368.60" font-size="10.62" text-anchor="middle" fill="#000" textLength="151.00" lengthAdjust="spacingAndGlyphs">ESSENTIAL DIGNITIES (PTOLEMY)</text>
<text x="570.25" y="382.60" font-size="10.62" text-anchor="middle" fill="#000" textLength="10.00" lengthAdjust="spacingAndGlyphs">Pt</text>
<text x="615.15" y="382.60" font-size="10.62" text-anchor="middle" fill="#000" textLength="19.00" lengthAdjust="spacingAndGlyphs">Ruler</text>
<text x="667.55" y="382.60" font-size="10.62" text-anchor="middle" fill="#000" textLength="20.00" lengthAdjust="spacingAndGlyphs">Exalt</text>
<text x="719.25" y="382.60" font-size="10.62" text-anchor="middle" fill="#000" textLength="15.00" lengthAdjust="spacingAndGlyphs">Trip</text>
<text x="771.40" y="382.60" font-size="10.62" text-anchor="middle" fill="#000" textLength="19.00" lengthAdjust="spacingAndGlyphs">Term</text>
<text x="823.35" y="382.60" font-size="10.62" text-anchor="middle" fill="#000" textLength="20.00" lengthAdjust="spacingAndGlyphs">Face</text>
<text x="875.25" y="382.60" font-size="10.62" text-anchor="middle" fill="#000" textLength="22.00" lengthAdjust="spacingAndGlyphs">Detri</text>
<text x="926.85" y="382.60" font-size="10.62" text-anchor="middle" fill="#000" textLength="15.00" lengthAdjust="spacingAndGlyphs">Fall</text>
<text x="982.15" y="382.60" font-size="10.62" text-anchor="middle" fill="#000" textLength="23.00" lengthAdjust="spacingAndGlyphs">Score</text>
<use href="#b_moon" transform="translate(570.25,394.40) scale(0.860)" style="color:#c4c430"/>
<use href="#g_mars" transform="translate(613.00,394.40) scale(0.880)" style="color:#e02828"/>
<use href="#g_sun" transform="translate(664.30,394.40) scale(0.880)" style="color:#b4b422"/>
<use href="#g_sun" transform="translate(714.80,394.40) scale(0.880)" style="color:#b4b422"/>
<use href="#g_saturn" transform="translate(767.00,394.40) scale(0.880)" style="color:#901818"/>
<use href="#g_jupiter" transform="translate(818.70,394.40) scale(0.880)" style="color:#9c9c9c"/>
<use href="#g_venus" transform="translate(870.20,394.40) scale(0.880)" style="color:#1ca0b0"/>
<use href="#g_saturn" transform="translate(921.80,394.40) scale(0.880)" style="color:#901818"/>
<text x="986.50" y="398.40" font-size="10.62" text-anchor="end" fill="#111" textLength="8.36" lengthAdjust="spacingAndGlyphs">-5</text>
<text x="991.00" y="398.40" font-size="10.62" text-anchor="start" fill="#111" textLength="5.23" lengthAdjust="spacingAndGlyphs">p</text>
<use href="#b_sun" transform="translate(570.25,408.74) scale(0.860)" style="color:#b4b422"/>
<use href="#g_venus" transform="translate(613.00,408.74) scale(0.880)" style="color:#1ca0b0"/>
<use href="#g_saturn" transform="translate(664.30,408.74) scale(0.880)" style="color:#901818"/>
<use href="#g_saturn" transform="translate(714.80,408.74) scale(0.880)" style="color:#901818"/>
<use href="#g_mars" transform="translate(767.00,408.74) scale(0.880)" style="color:#e02828"/>
<use href="#g_mercury" transform="translate(818.70,408.74) scale(0.880)" style="color:#a030b0"/>
<use href="#g_mars" transform="translate(870.20,408.74) scale(0.880)" style="color:#e02828"/>
<use href="#g_sun" transform="translate(921.80,408.74) scale(0.880)" style="color:#b4b422"/>
<text x="935.80" y="412.74" font-size="10.62" text-anchor="middle" fill="#111" textLength="3.13" lengthAdjust="spacingAndGlyphs">-</text>
<text x="986.50" y="412.74" font-size="10.62" text-anchor="end" fill="#111" textLength="8.36" lengthAdjust="spacingAndGlyphs">-9</text>
<text x="991.00" y="412.74" font-size="10.62" text-anchor="start" fill="#111" textLength="5.23" lengthAdjust="spacingAndGlyphs">p</text>
<use href="#b_mercury" transform="translate(570.25,423.08) scale(0.860)" style="color:#a030b0"/>
<use href="#g_venus" transform="translate(613.00,423.08) scale(0.880)" style="color:#1ca0b0"/>
<use href="#g_saturn" transform="translate(664.30,423.08) scale(0.880)" style="color:#901818"/>
<use href="#g_saturn" transform="translate(714.80,423.08) scale(0.880)" style="color:#901818"/>
<use href="#g_venus" transform="translate(767.00,423.08) scale(0.880)" style="color:#1ca0b0"/>
<text x="781.00" y="427.08" font-size="10.62" text-anchor="middle" fill="#111" textLength="7.83" lengthAdjust="spacingAndGlyphs">m</text>
<use href="#g_uranus" transform="translate(818.70,423.08) scale(0.880)" style="color:#2424c0"/>
<text x="832.70" y="427.08" font-size="10.62" text-anchor="middle" fill="#111" textLength="7.83" lengthAdjust="spacingAndGlyphs">m</text>
<use href="#g_mars" transform="translate(870.20,423.08) scale(0.880)" style="color:#e02828"/>
<use href="#g_sun" transform="translate(921.80,423.08) scale(0.880)" style="color:#b4b422"/>
<text x="986.50" y="427.08" font-size="10.62" text-anchor="end" fill="#111" textLength="10.72" lengthAdjust="spacingAndGlyphs">+3</text>
<use href="#b_venus" transform="translate(570.25,437.42) scale(0.860)" style="color:#1ca0b0"/>
<use href="#g_jupiter" transform="translate(613.00,437.42) scale(0.880)" style="color:#9c9c9c"/>
<text x="664.30" y="441.42" font-size="10.62" text-anchor="middle" fill="#111" textLength="9.00" lengthAdjust="spacingAndGlyphs">--</text>
<use href="#g_sun" transform="translate(714.80,437.42) scale(0.880)" style="color:#b4b422"/>
<use href="#g_mercury" transform="translate(767.00,437.42) scale(0.880)" style="color:#a030b0"/>
<text x="781.00" y="441.42" font-size="10.62" text-anchor="middle" fill="#111" textLength="7.83" lengthAdjust="spacingAndGlyphs">m</text>
<use href="#g_mars" transform="translate(818.70,437.42) scale(0.880)" style="color:#e02828"/>
<use href="#g_mercury" transform="translate(870.20,437.42) scale(0.880)" style="color:#a030b0"/>
<text x="921.80" y="441.42" font-size="10.62" text-anchor="middle" fill="#111" textLength="9.00" lengthAdjust="spacingAndGlyphs">--</text>
<text x="986.50" y="441.42" font-size="10.62" text-anchor="end" fill="#111" textLength="10.72" lengthAdjust="spacingAndGlyphs">+2</text>
<use href="#b_mars" transform="translate(570.25,451.76) scale(0.860)" style="color:#e02828"/>
<use href="#g_venus" transform="translate(613.00,451.76) scale(0.880)" style="color:#1ca0b0"/>
<use href="#g_saturn" transform="translate(664.30,451.76) scale(0.880)" style="color:#901818"/>
<use href="#g_saturn" transform="translate(714.80,451.76) scale(0.880)" style="color:#901818"/>
<use href="#g_mercury" transform="translate(767.00,451.76) scale(0.880)" style="color:#a030b0"/>
<use href="#g_mercury" transform="translate(818.70,451.76) scale(0.880)" style="color:#a030b0"/>
<use href="#g_mars" transform="translate(870.20,451.76) scale(0.880)" style="color:#e02828"/>
<text x="884.20" y="455.76" font-size="10.62" text-anchor="middle" fill="#111" textLength="3.13" lengthAdjust="spacingAndGlyphs">-</text>
<use href="#g_sun" transform="translate(921.80,451.76) scale(0.880)" style="color:#b4b422"/>
<text x="986.50" y="455.76" font-size="10.62" text-anchor="end" fill="#111" textLength="13.58" lengthAdjust="spacingAndGlyphs">-10</text>
<text x="991.00" y="455.76" font-size="10.62" text-anchor="start" fill="#111" textLength="5.23" lengthAdjust="spacingAndGlyphs">p</text>
<use href="#b_jupiter" transform="translate(570.25,466.10) scale(0.860)" style="color:#9c9c9c"/>
<use href="#g_uranus" transform="translate(613.00,466.10) scale(0.880)" style="color:#2424c0"/>
<text x="664.30" y="470.10" font-size="10.62" text-anchor="middle" fill="#111" textLength="9.00" lengthAdjust="spacingAndGlyphs">--</text>
<use href="#g_saturn" transform="translate(714.80,466.10) scale(0.880)" style="color:#901818"/>
<use href="#g_jupiter" transform="translate(767.00,466.10) scale(0.880)" style="color:#9c9c9c"/>
<text x="781.00" y="470.10" font-size="10.62" text-anchor="middle" fill="#111" textLength="5.49" lengthAdjust="spacingAndGlyphs">+</text>
<use href="#g_venus" transform="translate(818.70,466.10) scale(0.880)" style="color:#1ca0b0"/>
<use href="#g_sun" transform="translate(870.20,466.10) scale(0.880)" style="color:#b4b422"/>
<text x="921.80" y="470.10" font-size="10.62" text-anchor="middle" fill="#111" textLength="9.00" lengthAdjust="spacingAndGlyphs">--</text>
<text x="986.50" y="470.10" font-size="10.62" text-anchor="end" fill="#111" textLength="10.72" lengthAdjust="spacingAndGlyphs">+2</text>
<use href="#b_saturn" transform="translate(570.25,480.44) scale(0.860)" style="color:#901818"/>
<use href="#g_uranus" transform="translate(613.00,480.44) scale(0.880)" style="color:#2424c0"/>
<text x="664.30" y="484.44" font-size="10.62" text-anchor="middle" fill="#111" textLength="9.00" lengthAdjust="spacingAndGlyphs">--</text>
<use href="#g_saturn" transform="translate(714.80,480.44) scale(0.880)" style="color:#901818"/>
<text x="728.80" y="484.44" font-size="10.62" text-anchor="middle" fill="#111" textLength="5.49" lengthAdjust="spacingAndGlyphs">+</text>
<use href="#g_mercury" transform="translate(767.00,480.44) scale(0.880)" style="color:#a030b0"/>
<use href="#g_uranus" transform="translate(818.70,480.44) scale(0.880)" style="color:#2424c0"/>
<use href="#g_sun" transform="translate(870.20,480.44) scale(0.880)" style="color:#b4b422"/>
<text x="921.80" y="484.44" font-size="10.62" text-anchor="middle" fill="#111" textLength="9.00" lengthAdjust="spacingAndGlyphs">--</text>
<text x="986.50" y="484.44" font-size="10.62" text-anchor="end" fill="#111" textLength="10.72" lengthAdjust="spacingAndGlyphs">+3</text>
<use href="#b_node" transform="translate(570.25,494.78) scale(0.860)" style="color:#000"/>
<use href="#g_mercury" transform="translate(613.00,494.78) scale(0.880)" style="color:#a030b0"/>
<text x="664.30" y="498.78" font-size="10.62" text-anchor="middle" fill="#111" textLength="9.00" lengthAdjust="spacingAndGlyphs">--</text>
<use href="#g_saturn" transform="translate(714.80,494.78) scale(0.880)" style="color:#901818"/>
<use href="#g_mercury" transform="translate(767.00,494.78) scale(0.880)" style="color:#a030b0"/>
<use href="#g_mercury" transform="translate(818.70,494.78) scale(0.880)" style="color:#a030b0"/>
<use href="#g_jupiter" transform="translate(870.20,494.78) scale(0.880)" style="color:#9c9c9c"/>
<text x="921.80" y="498.78" font-size="10.62" text-anchor="middle" fill="#111" textLength="9.00" lengthAdjust="spacingAndGlyphs">--</text>
<text x="986.50" y="498.78" font-size="10.62" text-anchor="end" fill="#111" textLength="6.26" lengthAdjust="spacingAndGlyphs">--</text>
<use href="#b_snode" transform="translate(570.25,509.12) scale(0.860)" style="color:#000"/>
<use href="#g_jupiter" transform="translate(613.00,509.12) scale(0.880)" style="color:#9c9c9c"/>
<text x="664.30" y="513.12" font-size="10.62" text-anchor="middle" fill="#111" textLength="9.00" lengthAdjust="spacingAndGlyphs">--</text>
<use href="#g_sun" transform="translate(714.80,509.12) scale(0.880)" style="color:#b4b422"/>
<use href="#g_jupiter" transform="translate(767.00,509.12) scale(0.880)" style="color:#9c9c9c"/>
<use href="#g_jupiter" transform="translate(818.70,509.12) scale(0.880)" style="color:#9c9c9c"/>
<use href="#g_mercury" transform="translate(870.20,509.12) scale(0.880)" style="color:#a030b0"/>
<text x="921.80" y="513.12" font-size="10.62" text-anchor="middle" fill="#111" textLength="9.00" lengthAdjust="spacingAndGlyphs">--</text>
<text x="986.50" y="513.12" font-size="10.62" text-anchor="end" fill="#111" textLength="6.26" lengthAdjust="spacingAndGlyphs">--</text>
<text x="570.25" y="527.06" font-size="9.6" font-weight="bold" text-anchor="middle" fill="#000" textLength="10" lengthAdjust="spacingAndGlyphs">As</text>
<use href="#g_neptune" transform="translate(613.00,523.46) scale(0.880)" style="color:#1ca0b0"/>
<use href="#g_venus" transform="translate(664.30,523.46) scale(0.880)" style="color:#1ca0b0"/>
<use href="#g_venus" transform="translate(714.80,523.46) scale(0.880)" style="color:#1ca0b0"/>
<use href="#g_venus" transform="translate(767.00,523.46) scale(0.880)" style="color:#1ca0b0"/>
<use href="#g_neptune" transform="translate(818.70,523.46) scale(0.880)" style="color:#1ca0b0"/>
<use href="#g_mercury" transform="translate(870.20,523.46) scale(0.880)" style="color:#a030b0"/>
<use href="#g_mercury" transform="translate(921.80,523.46) scale(0.880)" style="color:#a030b0"/>
<text x="986.50" y="527.46" font-size="10.62" text-anchor="end" fill="#111" textLength="6.26" lengthAdjust="spacingAndGlyphs">--</text>
<text x="570.25" y="541.40" font-size="9.6" font-weight="bold" text-anchor="middle" fill="#000" textLength="10" lengthAdjust="spacingAndGlyphs">Mc</text>
<use href="#g_jupiter" transform="translate(613.00,537.80) scale(0.880)" style="color:#9c9c9c"/>
<text x="664.30" y="541.80" font-size="10.62" text-anchor="middle" fill="#111" textLength="9.00" lengthAdjust="spacingAndGlyphs">--</text>
<use href="#g_sun" transform="translate(714.80,537.80) scale(0.880)" style="color:#b4b422"/>
<use href="#g_mercury" transform="translate(767.00,537.80) scale(0.880)" style="color:#a030b0"/>
<use href="#g_mars" transform="translate(818.70,537.80) scale(0.880)" style="color:#e02828"/>
<use href="#g_mercury" transform="translate(870.20,537.80) scale(0.880)" style="color:#a030b0"/>
<text x="921.80" y="541.80" font-size="10.62" text-anchor="middle" fill="#111" textLength="9.00" lengthAdjust="spacingAndGlyphs">--</text>
<text x="986.50" y="541.80" font-size="10.62" text-anchor="end" fill="#111" textLength="6.26" lengthAdjust="spacingAndGlyphs">--</text>
<use href="#b_pof" transform="translate(570.25,552.14) scale(0.860)" style="color:#000"/>
<use href="#g_mercury" transform="translate(613.00,552.14) scale(0.880)" style="color:#a030b0"/>
<use href="#g_mercury" transform="translate(664.30,552.14) scale(0.880)" style="color:#a030b0"/>
<use href="#g_venus" transform="translate(714.80,552.14) scale(0.880)" style="color:#1ca0b0"/>
<use href="#g_mercury" transform="translate(767.00,552.14) scale(0.880)" style="color:#a030b0"/>
<use href="#g_mercury" transform="translate(818.70,552.14) scale(0.880)" style="color:#a030b0"/>
<use href="#g_neptune" transform="translate(870.20,552.14) scale(0.880)" style="color:#1ca0b0"/>
<use href="#g_venus" transform="translate(921.80,552.14) scale(0.880)" style="color:#1ca0b0"/>
<text x="986.50" y="556.14" font-size="10.62" text-anchor="end" fill="#111" textLength="6.26" lengthAdjust="spacingAndGlyphs">--</text>
<path d="M10.6,255.01999999999998 L31.68,255.01999999999998 L326.59999999999997,550.24 L326.59999999999997,560.42 L10.6,560.42Z" fill="#fff" stroke="#444" stroke-width="1"/>
<line x1="21.20" y1="265.20" x2="31.38" y2="265.20" stroke="#111" stroke-width="1"/>
<line x1="21.20" y1="275.38" x2="41.56" y2="275.38" stroke="#111" stroke-width="1"/>
<line x1="21.20" y1="285.56" x2="51.74" y2="285.56" stroke="#111" stroke-width="1"/>
<line x1="21.20" y1="295.74" x2="61.92" y2="295.74" stroke="#111" stroke-width="1"/>
<line x1="21.20" y1="305.92" x2="72.10" y2="305.92" stroke="#111" stroke-width="1"/>
<line x1="21.20" y1="316.10" x2="82.28" y2="316.10" stroke="#111" stroke-width="1"/>
<line x1="21.20" y1="326.28" x2="92.46" y2="326.28" stroke="#111" stroke-width="1"/>
<line x1="21.20" y1="336.46" x2="102.64" y2="336.46" stroke="#111" stroke-width="1"/>
<line x1="21.20" y1="346.64" x2="112.82" y2="346.64" stroke="#111" stroke-width="1"/>
<line x1="21.20" y1="356.82" x2="123.00" y2="356.82" stroke="#111" stroke-width="1"/>
<line x1="21.20" y1="367.00" x2="133.18" y2="367.00" stroke="#111" stroke-width="1"/>
<line x1="21.20" y1="377.18" x2="143.36" y2="377.18" stroke="#111" stroke-width="1"/>
<line x1="21.20" y1="387.36" x2="153.54" y2="387.36" stroke="#111" stroke-width="1"/>
<line x1="21.20" y1="397.54" x2="163.72" y2="397.54" stroke="#111" stroke-width="1"/>
<line x1="21.20" y1="407.72" x2="173.90" y2="407.72" stroke="#111" stroke-width="1"/>
<line x1="21.20" y1="417.90" x2="184.08" y2="417.90" stroke="#111" stroke-width="1"/>
<line x1="21.20" y1="428.08" x2="194.26" y2="428.08" stroke="#111" stroke-width="1"/>
<line x1="21.20" y1="438.26" x2="204.44" y2="438.26" stroke="#111" stroke-width="1"/>
<line x1="21.20" y1="448.44" x2="214.62" y2="448.44" stroke="#111" stroke-width="1"/>
<line x1="21.20" y1="458.62" x2="224.80" y2="458.62" stroke="#111" stroke-width="1"/>
<line x1="21.20" y1="468.80" x2="234.98" y2="468.80" stroke="#111" stroke-width="1"/>
<line x1="21.20" y1="478.98" x2="245.16" y2="478.98" stroke="#111" stroke-width="1"/>
<line x1="21.20" y1="489.16" x2="255.34" y2="489.16" stroke="#111" stroke-width="1"/>
<line x1="21.20" y1="499.34" x2="265.52" y2="499.34" stroke="#111" stroke-width="1"/>
<line x1="21.20" y1="509.52" x2="275.70" y2="509.52" stroke="#111" stroke-width="1"/>
<line x1="21.20" y1="519.70" x2="285.88" y2="519.70" stroke="#111" stroke-width="1"/>
<line x1="21.20" y1="529.88" x2="296.06" y2="529.88" stroke="#111" stroke-width="1"/>
<line x1="21.20" y1="540.06" x2="306.24" y2="540.06" stroke="#111" stroke-width="1"/>
<line x1="21.20" y1="550.24" x2="316.42" y2="550.24" stroke="#111" stroke-width="1"/>
<line x1="21.20" y1="265.20" x2="21.20" y2="560.42" stroke="#111" stroke-width="1"/>
<line x1="31.38" y1="265.20" x2="31.38" y2="560.42" stroke="#111" stroke-width="1"/>
<line x1="41.56" y1="275.38" x2="41.56" y2="560.42" stroke="#111" stroke-width="1"/>
<line x1="51.74" y1="285.56" x2="51.74" y2="560.42" stroke="#111" stroke-width="1"/>
<line x1="61.92" y1="295.74" x2="61.92" y2="560.42" stroke="#111" stroke-width="1"/>
<line x1="72.10" y1="305.92" x2="72.10" y2="560.42" stroke="#111" stroke-width="1"/>
<line x1="82.28" y1="316.10" x2="82.28" y2="560.42" stroke="#111" stroke-width="1"/>
<line x1="92.46" y1="326.28" x2="92.46" y2="560.42" stroke="#111" stroke-width="1"/>
<line x1="102.64" y1="336.46" x2="102.64" y2="560.42" stroke="#111" stroke-width="1"/>
<line x1="112.82" y1="346.64" x2="112.82" y2="560.42" stroke="#111" stroke-width="1"/>
<line x1="123.00" y1="356.82" x2="123.00" y2="560.42" stroke="#111" stroke-width="1"/>
<line x1="133.18" y1="367.00" x2="133.18" y2="560.42" stroke="#111" stroke-width="1"/>
<line x1="143.36" y1="377.18" x2="143.36" y2="560.42" stroke="#111" stroke-width="1"/>
<line x1="153.54" y1="387.36" x2="153.54" y2="560.42" stroke="#111" stroke-width="1"/>
<line x1="163.72" y1="397.54" x2="163.72" y2="560.42" stroke="#111" stroke-width="1"/>
<line x1="173.90" y1="407.72" x2="173.90" y2="560.42" stroke="#111" stroke-width="1"/>
<line x1="184.08" y1="417.90" x2="184.08" y2="560.42" stroke="#111" stroke-width="1"/>
<line x1="194.26" y1="428.08" x2="194.26" y2="560.42" stroke="#111" stroke-width="1"/>
<line x1="204.44" y1="438.26" x2="204.44" y2="560.42" stroke="#111" stroke-width="1"/>
<line x1="214.62" y1="448.44" x2="214.62" y2="560.42" stroke="#111" stroke-width="1"/>
<line x1="224.80" y1="458.62" x2="224.80" y2="560.42" stroke="#111" stroke-width="1"/>
<line x1="234.98" y1="468.80" x2="234.98" y2="560.42" stroke="#111" stroke-width="1"/>
<line x1="245.16" y1="478.98" x2="245.16" y2="560.42" stroke="#111" stroke-width="1"/>
<line x1="255.34" y1="489.16" x2="255.34" y2="560.42" stroke="#111" stroke-width="1"/>
<line x1="265.52" y1="499.34" x2="265.52" y2="560.42" stroke="#111" stroke-width="1"/>
<line x1="275.70" y1="509.52" x2="275.70" y2="560.42" stroke="#111" stroke-width="1"/>
<line x1="285.88" y1="519.70" x2="285.88" y2="560.42" stroke="#111" stroke-width="1"/>
<line x1="296.06" y1="529.88" x2="296.06" y2="560.42" stroke="#111" stroke-width="1"/>
<line x1="306.24" y1="540.06" x2="306.24" y2="560.42" stroke="#111" stroke-width="1"/>
<line x1="316.42" y1="550.24" x2="316.42" y2="560.42" stroke="#111" stroke-width="1"/>
<use href="#b_moon" transform="translate(25.40,260.11) scale(0.760)" style="color:#c4c430"/>
<use href="#b_sun" transform="translate(15.90,270.29) scale(0.760)" style="color:#b4b422"/>
<use href="#b_sun" transform="translate(35.58,270.29) scale(0.760)" style="color:#b4b422"/>
<use href="#b_mercury" transform="translate(15.90,280.47) scale(0.760)" style="color:#a030b0"/>
<use href="#b_mercury" transform="translate(45.76,280.47) scale(0.760)" style="color:#a030b0"/>
<use href="#b_venus" transform="translate(15.90,290.65) scale(0.760)" style="color:#1ca0b0"/>
<use href="#b_venus" transform="translate(55.94,290.65) scale(0.760)" style="color:#1ca0b0"/>
<use href="#b_mars" transform="translate(15.90,300.83) scale(0.760)" style="color:#e02828"/>
<use href="#b_mars" transform="translate(66.12,300.83) scale(0.760)" style="color:#e02828"/>
<use href="#b_jupiter" transform="translate(15.90,311.01) scale(0.760)" style="color:#9c9c9c"/>
<use href="#b_jupiter" transform="translate(76.30,311.01) scale(0.760)" style="color:#9c9c9c"/>
<use href="#b_saturn" transform="translate(15.90,321.19) scale(0.760)" style="color:#901818"/>
<use href="#b_saturn" transform="translate(86.48,321.19) scale(0.760)" style="color:#901818"/>
<use href="#b_uranus" transform="translate(15.90,331.37) scale(0.760)" style="color:#2424c0"/>
<use href="#b_uranus" transform="translate(96.66,331.37) scale(0.760)" style="color:#2424c0"/>
<use href="#b_neptune" transform="translate(15.90,341.55) scale(0.760)" style="color:#1ca0b0"/>
<use href="#b_neptune" transform="translate(106.84,341.55) scale(0.760)" style="color:#1ca0b0"/>
<use href="#b_pluto" transform="translate(15.90,351.73) scale(0.760)" style="color:#901818"/>
<use href="#b_pluto" transform="translate(117.02,351.73) scale(0.760)" style="color:#901818"/>
<use href="#b_chiron" transform="translate(15.90,361.91) scale(0.760)" style="color:#289028"/>
<use href="#b_chiron" transform="translate(127.20,361.91) scale(0.760)" style="color:#289028"/>
<use href="#b_trans" transform="translate(15.90,372.09) scale(0.760)" style="color:#000"/>
<use href="#b_trans" transform="translate(137.38,372.09) scale(0.760)" style="color:#000"/>
<use href="#b_node" transform="translate(15.90,382.27) scale(0.760)" style="color:#000"/>
<use href="#b_node" transform="translate(147.56,382.27) scale(0.760)" style="color:#000"/>
<use href="#b_snode" transform="translate(15.90,392.45) scale(0.760)" style="color:#000"/>
<use href="#b_snode" transform="translate(157.74,392.45) scale(0.760)" style="color:#000"/>
<text x="15.90" y="405.83" font-size="8.4" font-weight="bold" text-anchor="middle" fill="#000" textLength="9" lengthAdjust="spacingAndGlyphs">As</text>
<text x="167.92" y="405.83" font-size="8.4" font-weight="bold" text-anchor="middle" fill="#000" textLength="9" lengthAdjust="spacingAndGlyphs">As</text>
<text x="15.90" y="416.01" font-size="8.4" font-weight="bold" text-anchor="middle" fill="#000" textLength="9" lengthAdjust="spacingAndGlyphs">Mc</text>
<text x="178.10" y="416.01" font-size="8.4" font-weight="bold" text-anchor="middle" fill="#000" textLength="9" lengthAdjust="spacingAndGlyphs">Mc</text>
<use href="#b_vx" transform="translate(15.90,422.99) scale(0.760)" style="color:#000"/>
<use href="#b_vx" transform="translate(188.28,422.99) scale(0.760)" style="color:#000"/>
<use href="#b_pof" transform="translate(15.90,433.17) scale(0.760)" style="color:#000"/>
<use href="#b_pof" transform="translate(198.46,433.17) scale(0.760)" style="color:#000"/>
<use href="#b_cupido" transform="translate(15.90,443.35) scale(0.760)" style="color:#000"/>
<use href="#b_cupido" transform="translate(208.64,443.35) scale(0.760)" style="color:#000"/>
<use href="#b_hades" transform="translate(15.90,453.53) scale(0.760)" style="color:#000"/>
<use href="#b_hades" transform="translate(218.82,453.53) scale(0.760)" style="color:#000"/>
<use href="#b_zeus" transform="translate(15.90,463.71) scale(0.760)" style="color:#000"/>
<use href="#b_zeus" transform="translate(229.00,463.71) scale(0.760)" style="color:#000"/>
<use href="#b_kronos" transform="translate(15.90,473.89) scale(0.760)" style="color:#000"/>
<use href="#b_kronos" transform="translate(239.18,473.89) scale(0.760)" style="color:#000"/>
<use href="#b_apollon" transform="translate(15.90,484.07) scale(0.760)" style="color:#000"/>
<use href="#b_apollon" transform="translate(249.36,484.07) scale(0.760)" style="color:#000"/>
<use href="#b_admetos" transform="translate(15.90,494.25) scale(0.760)" style="color:#000"/>
<use href="#b_admetos" transform="translate(259.54,494.25) scale(0.760)" style="color:#000"/>
<use href="#b_vulkanus" transform="translate(15.90,504.43) scale(0.760)" style="color:#000"/>
<use href="#b_vulkanus" transform="translate(269.72,504.43) scale(0.760)" style="color:#000"/>
<use href="#b_poseidon" transform="translate(15.90,514.61) scale(0.760)" style="color:#000"/>
<use href="#b_poseidon" transform="translate(279.90,514.61) scale(0.760)" style="color:#000"/>
<text x="15.90" y="527.99" font-size="8.4" font-weight="bold" text-anchor="middle" fill="#000" textLength="9" lengthAdjust="spacingAndGlyphs">Ds</text>
<text x="290.08" y="527.99" font-size="8.4" font-weight="bold" text-anchor="middle" fill="#000" textLength="9" lengthAdjust="spacingAndGlyphs">Ds</text>
<text x="15.90" y="538.17" font-size="8.4" font-weight="bold" text-anchor="middle" fill="#000" textLength="9" lengthAdjust="spacingAndGlyphs">Ic</text>
<text x="300.26" y="538.17" font-size="8.4" font-weight="bold" text-anchor="middle" fill="#000" textLength="9" lengthAdjust="spacingAndGlyphs">Ic</text>
<use href="#b_axt" transform="translate(15.90,545.15) scale(0.760)" style="color:#000"/>
<use href="#b_axt" transform="translate(310.44,545.15) scale(0.760)" style="color:#000"/>
<use href="#b_aries_pt" transform="translate(15.90,555.33) scale(0.760)" style="color:#000"/>
<use href="#b_aries_pt" transform="translate(320.62,555.33) scale(0.760)" style="color:#000"/>
<use href="#b_opp" transform="translate(25.79,273.29) scale(0.780)" style="color:#d02828"/>
<use href="#b_sex" transform="translate(46.65,293.65) scale(0.760)" style="color:#2020b8"/>
<use href="#b_opp" transform="translate(25.79,303.83) scale(0.780)" style="color:#d02828"/>
<use href="#b_con" transform="translate(36.47,303.83) scale(0.740)" style="color:#000"/>
<use href="#b_sex" transform="translate(26.29,314.01) scale(0.760)" style="color:#2020b8"/>
<use href="#b_tri" transform="translate(36.47,314.01) scale(0.720)" style="color:#2020b8"/>
<use href="#b_tri" transform="translate(67.01,314.01) scale(0.720)" style="color:#2020b8"/>
<use href="#b_tri" transform="translate(46.65,324.19) scale(0.720)" style="color:#2020b8"/>
<use href="#b_qcx" transform="translate(46.65,334.37) scale(0.740)" style="color:#2a8a2a"/>
<use href="#b_qcx" transform="translate(56.83,334.37) scale(0.740)" style="color:#2a8a2a"/>
<use href="#b_bqu" transform="translate(36.47,344.55) scale(0.820)" style="color:#30d8e8"/>
<use href="#b_qcx" transform="translate(67.01,344.55) scale(0.740)" style="color:#2a8a2a"/>
<use href="#b_sqr" transform="translate(26.29,354.73) scale(0.760)" style="color:#c83030"/>
<use href="#b_sqr" transform="translate(36.47,354.73) scale(0.760)" style="color:#c83030"/>
<use href="#b_sqr" transform="translate(67.01,354.73) scale(0.760)" style="color:#c83030"/>
<use href="#b_sex" transform="translate(107.73,354.73) scale(0.760)" style="color:#2020b8"/>
<use href="#b_opp" transform="translate(46.15,364.91) scale(0.780)" style="color:#d02828"/>
<use href="#b_tri" transform="translate(56.83,364.91) scale(0.720)" style="color:#2020b8"/>
<use href="#b_sex" transform="translate(87.37,364.91) scale(0.760)" style="color:#2020b8"/>
<use href="#b_tri" transform="translate(26.29,375.09) scale(0.720)" style="color:#2020b8"/>
<use href="#b_qui" transform="translate(46.65,375.09) scale(0.820)" style="color:#30d8e8"/>
<use href="#b_con" transform="translate(56.83,375.09) scale(0.740)" style="color:#000"/>
<use href="#b_sex" transform="translate(67.01,375.09) scale(0.760)" style="color:#2020b8"/>
<use href="#b_sex" transform="translate(77.19,375.09) scale(0.760)" style="color:#2020b8"/>
<use href="#b_sqr" transform="translate(107.73,375.09) scale(0.760)" style="color:#c83030"/>
<use href="#b_bqu" transform="translate(36.47,385.27) scale(0.820)" style="color:#30d8e8"/>
<use href="#b_bqu" transform="translate(67.01,385.27) scale(0.820)" style="color:#30d8e8"/>
<use href="#b_tri" transform="translate(87.37,385.27) scale(0.720)" style="color:#2020b8"/>
<use href="#b_qui" transform="translate(107.73,385.27) scale(0.820)" style="color:#30d8e8"/>
<use href="#b_tri" transform="translate(117.91,385.27) scale(0.720)" style="color:#2020b8"/>
<use href="#b_bqu" transform="translate(26.29,395.45) scale(0.820)" style="color:#30d8e8"/>
<use href="#b_tri" transform="translate(128.09,395.45) scale(0.720)" style="color:#2020b8"/>
<use href="#b_opp" transform="translate(147.95,395.45) scale(0.780)" style="color:#d02828"/>
<use href="#b_qcx" transform="translate(46.65,405.63) scale(0.740)" style="color:#2a8a2a"/>
<use href="#b_con" transform="translate(56.83,415.81) scale(0.740)" style="color:#000"/>
<use href="#b_bqu" transform="translate(97.55,415.81) scale(0.820)" style="color:#30d8e8"/>
<use href="#b_sqr" transform="translate(107.73,415.81) scale(0.760)" style="color:#c83030"/>
<use href="#b_tri" transform="translate(128.09,415.81) scale(0.720)" style="color:#2020b8"/>
<use href="#b_con" transform="translate(138.27,415.81) scale(0.740)" style="color:#000"/>
<use href="#b_bqu" transform="translate(26.29,425.99) scale(0.820)" style="color:#30d8e8"/>
<use href="#b_qcx" transform="translate(77.19,425.99) scale(0.740)" style="color:#2a8a2a"/>
<use href="#b_tri" transform="translate(97.55,425.99) scale(0.720)" style="color:#2020b8"/>
<use href="#b_opp" transform="translate(107.23,425.99) scale(0.780)" style="color:#d02828"/>
<use href="#b_tri" transform="translate(117.91,425.99) scale(0.720)" style="color:#2020b8"/>
<use href="#b_sqr" transform="translate(138.27,425.99) scale(0.760)" style="color:#c83030"/>
<use href="#b_qui" transform="translate(158.63,425.99) scale(0.820)" style="color:#30d8e8"/>
<use href="#b_sqr" transform="translate(178.99,425.99) scale(0.760)" style="color:#c83030"/>
<use href="#b_qcx" transform="translate(87.37,436.17) scale(0.740)" style="color:#2a8a2a"/>
<use href="#b_tri" transform="translate(97.55,436.17) scale(0.720)" style="color:#2020b8"/>
<use href="#b_sqr" transform="translate(148.45,436.17) scale(0.760)" style="color:#c83030"/>
<use href="#b_sqr" transform="translate(158.63,436.17) scale(0.760)" style="color:#c83030"/>
<use href="#b_opp" transform="translate(168.31,436.17) scale(0.780)" style="color:#d02828"/>
<use href="#b_tri" transform="translate(26.29,446.35) scale(0.720)" style="color:#2020b8"/>
<use href="#b_sex" transform="translate(36.47,446.35) scale(0.760)" style="color:#2020b8"/>
<use href="#b_qcx" transform="translate(148.45,446.35) scale(0.740)" style="color:#2a8a2a"/>
<use href="#b_tri" transform="translate(199.35,446.35) scale(0.720)" style="color:#2020b8"/>
<use href="#b_sqr" transform="translate(46.65,456.53) scale(0.760)" style="color:#c83030"/>
<use href="#b_qcx" transform="translate(56.83,456.53) scale(0.740)" style="color:#2a8a2a"/>
<use href="#b_sex" transform="translate(97.55,456.53) scale(0.760)" style="color:#2020b8"/>
<use href="#b_sqr" transform="translate(128.09,456.53) scale(0.760)" style="color:#c83030"/>
<use href="#b_tri" transform="translate(168.81,456.53) scale(0.720)" style="color:#2020b8"/>
<use href="#b_opp" transform="translate(25.79,466.71) scale(0.780)" style="color:#d02828"/>
<use href="#b_con" transform="translate(36.47,466.71) scale(0.740)" style="color:#000"/>
<use href="#b_con" transform="translate(67.01,466.71) scale(0.740)" style="color:#000"/>
<use href="#b_tri" transform="translate(77.19,466.71) scale(0.720)" style="color:#2020b8"/>
<use href="#b_qcx" transform="translate(107.73,466.71) scale(0.740)" style="color:#2a8a2a"/>
<use href="#b_sqr" transform="translate(117.91,466.71) scale(0.760)" style="color:#c83030"/>
<use href="#b_sex" transform="translate(138.27,466.71) scale(0.760)" style="color:#2020b8"/>
<use href="#b_qui" transform="translate(209.53,466.71) scale(0.820)" style="color:#30d8e8"/>
<use href="#b_sqr" transform="translate(46.65,476.89) scale(0.760)" style="color:#c83030"/>
<use href="#b_qcx" transform="translate(56.83,476.89) scale(0.740)" style="color:#2a8a2a"/>
<use href="#b_sex" transform="translate(97.55,476.89) scale(0.760)" style="color:#2020b8"/>
<use href="#b_tri" transform="translate(107.73,476.89) scale(0.720)" style="color:#2020b8"/>
<use href="#b_sqr" transform="translate(128.09,476.89) scale(0.760)" style="color:#c83030"/>
<use href="#b_tri" transform="translate(168.81,476.89) scale(0.720)" style="color:#2020b8"/>
<use href="#b_con" transform="translate(219.71,476.89) scale(0.740)" style="color:#000"/>
<use href="#b_con" transform="translate(36.47,487.07) scale(0.740)" style="color:#000"/>
<use href="#b_sqr" transform="translate(87.37,487.07) scale(0.760)" style="color:#c83030"/>
<use href="#b_qcx" transform="translate(148.45,487.07) scale(0.740)" style="color:#2a8a2a"/>
<use href="#b_tri" transform="translate(168.81,487.07) scale(0.720)" style="color:#2020b8"/>
<use href="#b_sex" transform="translate(199.35,487.07) scale(0.760)" style="color:#2020b8"/>
<use href="#b_sex" transform="translate(209.53,487.07) scale(0.760)" style="color:#2020b8"/>
<use href="#b_tri" transform="translate(219.71,487.07) scale(0.720)" style="color:#2020b8"/>
<use href="#b_bqu" transform="translate(36.47,497.25) scale(0.820)" style="color:#30d8e8"/>
<use href="#b_tri" transform="translate(46.65,497.25) scale(0.720)" style="color:#2020b8"/>
<use href="#b_tri" transform="translate(87.37,497.25) scale(0.720)" style="color:#2020b8"/>
<use href="#b_qui" transform="translate(107.73,497.25) scale(0.820)" style="color:#30d8e8"/>
<use href="#b_con" transform="translate(148.45,497.25) scale(0.740)" style="color:#000"/>
<use href="#b_opp" transform="translate(158.13,497.25) scale(0.780)" style="color:#d02828"/>
<use href="#b_sqr" transform="translate(168.81,497.25) scale(0.760)" style="color:#c83030"/>
<use href="#b_sqr" transform="translate(199.35,497.25) scale(0.760)" style="color:#c83030"/>
<use href="#b_qcx" transform="translate(209.53,497.25) scale(0.740)" style="color:#2a8a2a"/>
<use href="#b_qcx" transform="translate(250.25,497.25) scale(0.740)" style="color:#2a8a2a"/>
<use href="#b_opp" transform="translate(86.87,507.43) scale(0.780)" style="color:#d02828"/>
<use href="#b_tri" transform="translate(128.09,507.43) scale(0.720)" style="color:#2020b8"/>
<use href="#b_sex" transform="translate(148.45,507.43) scale(0.760)" style="color:#2020b8"/>
<use href="#b_tri" transform="translate(158.63,507.43) scale(0.720)" style="color:#2020b8"/>
<use href="#b_bqu" transform="translate(168.81,507.43) scale(0.820)" style="color:#30d8e8"/>
<use href="#b_qcx" transform="translate(209.53,507.43) scale(0.740)" style="color:#2a8a2a"/>
<use href="#b_sqr" transform="translate(250.25,507.43) scale(0.760)" style="color:#c83030"/>
<use href="#b_sex" transform="translate(260.43,507.43) scale(0.760)" style="color:#2020b8"/>
<use href="#b_opp" transform="translate(97.05,517.61) scale(0.780)" style="color:#d02828"/>
<use href="#b_tri" transform="translate(107.73,517.61) scale(0.720)" style="color:#2020b8"/>
<use href="#b_qui" transform="translate(117.91,517.61) scale(0.820)" style="color:#30d8e8"/>
<use href="#b_bqu" transform="translate(128.09,517.61) scale(0.820)" style="color:#30d8e8"/>
<use href="#b_tri" transform="translate(168.81,517.61) scale(0.720)" style="color:#2020b8"/>
<use href="#b_tri" transform="translate(219.71,517.61) scale(0.720)" style="color:#2020b8"/>
<use href="#b_tri" transform="translate(240.07,517.61) scale(0.720)" style="color:#2020b8"/>
<use href="#b_qcx" transform="translate(87.37,527.79) scale(0.740)" style="color:#2a8a2a"/>
<use href="#b_tri" transform="translate(97.55,527.79) scale(0.720)" style="color:#2020b8"/>
<use href="#b_qcx" transform="translate(128.09,527.79) scale(0.740)" style="color:#2a8a2a"/>
<use href="#b_con" transform="translate(199.35,527.79) scale(0.740)" style="color:#000"/>
<use href="#b_tri" transform="translate(209.53,527.79) scale(0.720)" style="color:#2020b8"/>
<use href="#b_sex" transform="translate(250.25,527.79) scale(0.760)" style="color:#2020b8"/>
<use href="#b_sqr" transform="translate(260.43,527.79) scale(0.760)" style="color:#c83030"/>
<use href="#b_tri" transform="translate(46.65,537.97) scale(0.720)" style="color:#2020b8"/>
<use href="#b_opp" transform="translate(56.33,537.97) scale(0.780)" style="color:#d02828"/>
<use href="#b_tri" transform="translate(67.01,537.97) scale(0.720)" style="color:#2020b8"/>
<use href="#b_tri" transform="translate(77.19,537.97) scale(0.720)" style="color:#2020b8"/>
<use href="#b_sqr" transform="translate(107.73,537.97) scale(0.760)" style="color:#c83030"/>
<use href="#b_bqu" transform="translate(117.91,537.97) scale(0.820)" style="color:#30d8e8"/>
<use href="#b_opp" transform="translate(137.77,537.97) scale(0.780)" style="color:#d02828"/>
<use href="#b_sqr" transform="translate(189.17,537.97) scale(0.760)" style="color:#c83030"/>
<use href="#b_tri" transform="translate(229.89,537.97) scale(0.720)" style="color:#2020b8"/>
<use href="#b_bqu" transform="translate(280.79,537.97) scale(0.820)" style="color:#30d8e8"/>
<use href="#b_bqu" transform="translate(36.47,548.15) scale(0.820)" style="color:#30d8e8"/>
<use href="#b_qcx" transform="translate(67.01,548.15) scale(0.740)" style="color:#2a8a2a"/>
<use href="#b_con" transform="translate(107.73,548.15) scale(0.740)" style="color:#000"/>
<use href="#b_sex" transform="translate(117.91,548.15) scale(0.760)" style="color:#2020b8"/>
<use href="#b_sqr" transform="translate(138.27,548.15) scale(0.760)" style="color:#c83030"/>
<use href="#b_qui" transform="translate(148.45,548.15) scale(0.820)" style="color:#30d8e8"/>
<use href="#b_sqr" transform="translate(178.99,548.15) scale(0.760)" style="color:#c83030"/>
<use href="#b_qcx" transform="translate(229.89,548.15) scale(0.740)" style="color:#2a8a2a"/>
<use href="#b_tri" transform="translate(240.07,548.15) scale(0.720)" style="color:#2020b8"/>
<use href="#b_qui" transform="translate(260.43,548.15) scale(0.820)" style="color:#30d8e8"/>
<use href="#b_tri" transform="translate(280.79,548.15) scale(0.720)" style="color:#2020b8"/>
<use href="#b_sqr" transform="translate(301.15,548.15) scale(0.760)" style="color:#c83030"/>
<use href="#b_qcx" transform="translate(36.47,558.33) scale(0.740)" style="color:#2a8a2a"/>
<use href="#b_sex" transform="translate(148.45,558.33) scale(0.760)" style="color:#2020b8"/>
<use href="#b_tri" transform="translate(158.63,558.33) scale(0.720)" style="color:#2020b8"/>
<use href="#b_sqr" transform="translate(209.53,558.33) scale(0.760)" style="color:#c83030"/>
<use href="#b_bqu" transform="translate(250.25,558.33) scale(0.820)" style="color:#30d8e8"/>
<use href="#b_sex" transform="translate(260.43,558.33) scale(0.760)" style="color:#2020b8"/>
<use href="#b_tri" transform="translate(270.61,558.33) scale(0.720)" style="color:#2020b8"/></svg></body></html>
